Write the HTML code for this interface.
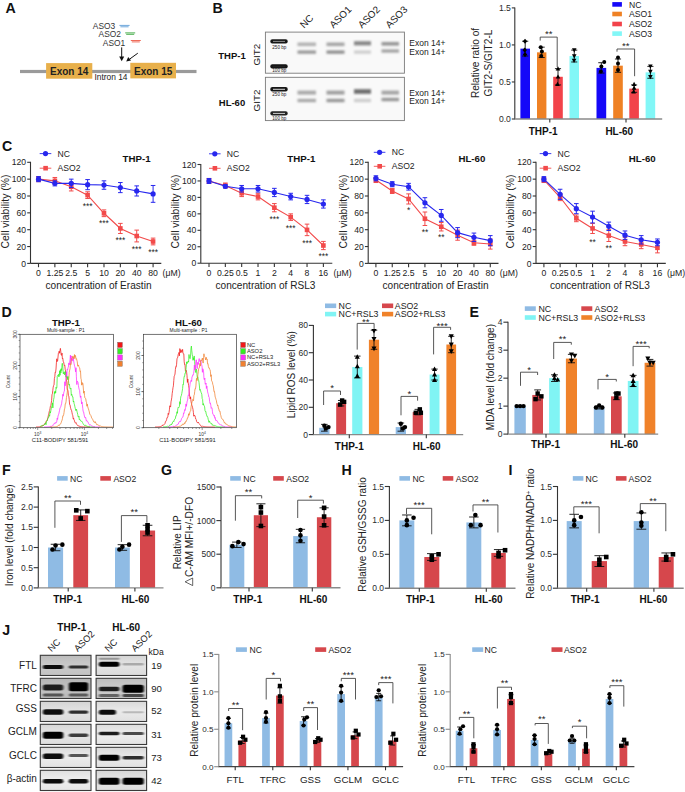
<!DOCTYPE html>
<html><head><meta charset="utf-8"><style>
html,body{margin:0;padding:0;background:#fff;overflow:hidden;width:685px;height:792px;}
svg{display:block;}
text{font-family:"Liberation Sans", sans-serif;}
</style></head><body>
<svg width="685" height="792" viewBox="0 0 685 792" font-family='"Liberation Sans", sans-serif'>
<rect width="685" height="792" fill="#fff"/>
<text x="5.6" y="12.5" font-size="14.2" font-weight="bold" fill="#111">A</text>
<rect x="20" y="69.9" width="176.5" height="3.2" fill="#9a9a9a"/>
<rect x="46.1" y="63.1" width="46.2" height="15.6" fill="#e8b04b"/>
<rect x="130.3" y="62.8" width="45.7" height="15.6" fill="#e8b04b"/>
<text x="69.2" y="75" font-size="10" text-anchor="middle" fill="#222" font-weight="bold">Exon 14</text>
<text x="153.2" y="74.7" font-size="10" text-anchor="middle" fill="#222" font-weight="bold">Exon 15</text>
<text x="111" y="79.52" font-size="8.4" text-anchor="middle" fill="#222">Intron 14</text>
<text x="104" y="29.42" font-size="8.4" text-anchor="middle" fill="#333">ASO3</text>
<text x="109.8" y="37.32" font-size="8.4" text-anchor="middle" fill="#333">ASO2</text>
<text x="114" y="45.72" font-size="8.4" text-anchor="middle" fill="#333">ASO1</text>
<line x1="119.4" y1="25.4" x2="129.6" y2="25.4" stroke="#6fa8dc" stroke-width="1.0"/>
<line x1="120.4" y1="26.8" x2="128.6" y2="26.8" stroke="#6fa8dc" stroke-width="1.0"/>
<line x1="125.2" y1="32.9" x2="135.2" y2="32.9" stroke="#4caf50" stroke-width="1.0"/>
<line x1="126.2" y1="34.3" x2="134.2" y2="34.3" stroke="#4caf50" stroke-width="1.0"/>
<line x1="130.8" y1="40.5" x2="140.8" y2="40.5" stroke="#ef6c5a" stroke-width="1.0"/>
<line x1="131.8" y1="41.9" x2="139.8" y2="41.9" stroke="#ef6c5a" stroke-width="1.0"/>
<line x1="121.7" y1="47.4" x2="121.7" y2="57.5" stroke="#111" stroke-width="1.0"/>
<polygon points="119.2,56.5 124.2,56.5 121.7,61.2" fill="#111"/>
<line x1="137.8" y1="53.2" x2="129.5" y2="59.2" stroke="#111" stroke-width="1.0"/>
<polygon points="126.2,61.6 128.2,56.9 131.0,60.6" fill="#111"/>
<text x="212.5" y="13" font-size="14.2" font-weight="bold" fill="#111">B</text>
<defs><filter id="bl1" x="-20%" y="-80%" width="140%" height="260%"><feGaussianBlur stdDeviation="1.2 1.0"/></filter><filter id="bl2" x="-20%" y="-50%" width="140%" height="200%"><feGaussianBlur stdDeviation="1.3 1.0"/></filter><filter id="bl3" x="-20%" y="-60%" width="140%" height="220%"><feGaussianBlur stdDeviation="0.7 0.5"/></filter></defs>
<rect x="265.4" y="32.1" width="139" height="41.1" fill="#f9f9f9" stroke="#7a7a7a" stroke-width="0.9"/>
<rect x="265.4" y="77.3" width="139" height="43.3" fill="#f9f9f9" stroke="#7a7a7a" stroke-width="0.9"/>
<rect x="297.5" y="42.5" width="18.5" height="3.6" fill="rgb(178,178,178)" filter="url(#bl1)"/>
<rect x="297.5" y="50.5" width="18.5" height="3.2" fill="rgb(150,150,150)" filter="url(#bl1)"/>
<rect x="326.5" y="42.5" width="18" height="3.6" fill="rgb(165,165,165)" filter="url(#bl1)"/>
<rect x="326.5" y="50.5" width="18" height="3.2" fill="rgb(140,140,140)" filter="url(#bl1)"/>
<rect x="354" y="41.2" width="17" height="4.2" fill="rgb(135,135,135)" filter="url(#bl1)"/>
<rect x="354" y="50.5" width="17" height="3.2" fill="rgb(205,205,205)" filter="url(#bl1)"/>
<rect x="381.5" y="42" width="17.5" height="3.6" fill="rgb(150,150,150)" filter="url(#bl1)"/>
<rect x="381.5" y="49.4" width="17.5" height="3.2" fill="rgb(160,160,160)" filter="url(#bl1)"/>
<rect x="297.5" y="90.6" width="18.5" height="4" fill="rgb(170,170,170)" filter="url(#bl1)"/>
<rect x="297.5" y="98.8" width="18.5" height="3.4" fill="rgb(168,168,168)" filter="url(#bl1)"/>
<rect x="326.5" y="90.6" width="18" height="4" fill="rgb(160,160,160)" filter="url(#bl1)"/>
<rect x="326.5" y="98.8" width="18" height="3.4" fill="rgb(150,150,150)" filter="url(#bl1)"/>
<rect x="354" y="89.2" width="17" height="4.6" fill="rgb(110,110,110)" filter="url(#bl1)"/>
<rect x="354" y="98.8" width="17" height="3.4" fill="rgb(205,205,205)" filter="url(#bl1)"/>
<rect x="381.5" y="90.6" width="17.5" height="4" fill="rgb(165,165,165)" filter="url(#bl1)"/>
<rect x="381.5" y="97.8" width="17.5" height="3.4" fill="rgb(150,150,150)" filter="url(#bl1)"/>
<rect x="270.3" y="39.2" width="17.4" height="4.4" rx="2" fill="rgb(25,25,25)" filter="url(#bl3)"/>
<rect x="273" y="40.9" width="12" height="1.0" fill="#9a9a9a" opacity="0.9"/>
<rect x="270.3" y="64.2" width="17.4" height="4.4" rx="2" fill="rgb(20,20,20)" filter="url(#bl3)"/>
<rect x="273" y="65.9" width="12" height="1.0" fill="#222" opacity="0.9"/>
<rect x="270.3" y="87.1" width="17.4" height="4.4" rx="2" fill="rgb(25,25,25)" filter="url(#bl3)"/>
<rect x="273" y="88.8" width="12" height="1.0" fill="#e8e8e8" opacity="0.9"/>
<rect x="270.3" y="111.2" width="17.4" height="4.4" rx="2" fill="rgb(35,35,35)" filter="url(#bl3)"/>
<rect x="273" y="112.9" width="12" height="1.0" fill="#e0e0e0" opacity="0.9"/>
<text x="279.3" y="48.86" font-size="4.6" text-anchor="middle" fill="#222">250 bp</text>
<text x="279.3" y="72.26" font-size="4.6" text-anchor="middle" fill="#222">100 bp</text>
<text x="279.3" y="96.46" font-size="4.6" text-anchor="middle" fill="#222">250 bp</text>
<text x="279.3" y="119.86" font-size="4.6" text-anchor="middle" fill="#222">100 bp</text>
<text x="232" y="59.02" font-size="9.5" text-anchor="middle" fill="#111" font-weight="bold">THP-1</text>
<text x="232" y="105.62" font-size="9.5" text-anchor="middle" fill="#111" font-weight="bold">HL-60</text>
<text transform="translate(256.8,54.7) rotate(-90)" x="0" y="3.53" font-size="9.8" text-anchor="middle" fill="#222">GIT2</text>
<text transform="translate(256.8,100.5) rotate(-90)" x="0" y="3.53" font-size="9.8" text-anchor="middle" fill="#222">GIT2</text>
<text transform="translate(303.9,28.7) rotate(-45)" x="0" y="0" font-size="9.9" fill="#222">NC</text>
<text transform="translate(333.4,28.7) rotate(-45)" x="0" y="0" font-size="9.9" fill="#222">ASO1</text>
<text transform="translate(362,28.7) rotate(-45)" x="0" y="0" font-size="9.9" fill="#222">ASO2</text>
<text transform="translate(389.5,28.7) rotate(-45)" x="0" y="0" font-size="9.9" fill="#222">ASO3</text>
<text x="409.3" y="46.36" font-size="8.5" text-anchor="start" fill="#222">Exon 14+</text>
<text x="409.3" y="55.16" font-size="8.5" text-anchor="start" fill="#222">Exon 14+</text>
<text x="409.3" y="95.66" font-size="8.5" text-anchor="start" fill="#222">Exon 14+</text>
<text x="409.3" y="103.86" font-size="8.5" text-anchor="start" fill="#222">Exon 14+</text>
<rect x="520.4" y="48.64" width="9.6" height="70.36" fill="#1508f8"/>
<line x1="525.2" y1="41.23" x2="525.2" y2="56.04" stroke="#111" stroke-width="0.9"/>
<line x1="522.13" y1="41.23" x2="528.27" y2="41.23" stroke="#111" stroke-width="0.9"/>
<line x1="522.13" y1="56.04" x2="528.27" y2="56.04" stroke="#111" stroke-width="0.9"/>
<polygon points="525.01,38.63 522.81,41.23 525.01,43.83 527.21,41.23" fill="#000"/>
<polygon points="524.72,47.52 522.52,50.12 524.72,52.72 526.92,50.12" fill="#000"/>
<polygon points="525.01,51.96 522.81,54.56 525.01,57.16 527.21,54.56" fill="#000"/>
<rect x="537" y="52.34" width="9.4" height="66.66" fill="#ef8124"/>
<line x1="541.7" y1="47.16" x2="541.7" y2="57.52" stroke="#111" stroke-width="0.9"/>
<line x1="538.69" y1="47.16" x2="544.71" y2="47.16" stroke="#111" stroke-width="0.9"/>
<line x1="538.69" y1="57.52" x2="544.71" y2="57.52" stroke="#111" stroke-width="0.9"/>
<circle cx="540.76" cy="47.16" r="2" fill="#000"/>
<circle cx="541.89" cy="51.6" r="2" fill="#000"/>
<circle cx="541.23" cy="56.04" r="2" fill="#000"/>
<rect x="553.2" y="76.78" width="9.6" height="42.22" fill="#f2434a"/>
<line x1="558" y1="68.63" x2="558" y2="84.93" stroke="#111" stroke-width="0.9"/>
<line x1="554.93" y1="68.63" x2="561.07" y2="68.63" stroke="#111" stroke-width="0.9"/>
<line x1="554.93" y1="84.93" x2="561.07" y2="84.93" stroke="#111" stroke-width="0.9"/>
<polygon points="558,66.23 555.7,70.43 560.3,70.43" fill="#000"/>
<polygon points="558,74.38 555.7,78.58 560.3,78.58" fill="#000"/>
<polygon points="557.52,81.79 555.22,85.99 559.82,85.99" fill="#000"/>
<rect x="569.5" y="56.04" width="9.5" height="62.96" fill="#82f7f7"/>
<line x1="574.25" y1="50.12" x2="574.25" y2="61.97" stroke="#111" stroke-width="0.9"/>
<line x1="571.21" y1="50.12" x2="577.29" y2="50.12" stroke="#111" stroke-width="0.9"/>
<line x1="571.21" y1="61.97" x2="577.29" y2="61.97" stroke="#111" stroke-width="0.9"/>
<polygon points="574.25,52.52 571.95,48.32 576.55,48.32" fill="#000"/>
<polygon points="574.25,58.44 571.95,54.24 576.55,54.24" fill="#000"/>
<polygon points="574.06,62.89 571.76,58.69 576.36,58.69" fill="#000"/>
<rect x="596.5" y="67.89" width="9.7" height="51.11" fill="#1508f8"/>
<line x1="601.35" y1="62.71" x2="601.35" y2="73.08" stroke="#111" stroke-width="0.9"/>
<line x1="598.25" y1="62.71" x2="604.45" y2="62.71" stroke="#111" stroke-width="0.9"/>
<line x1="598.25" y1="73.08" x2="604.45" y2="73.08" stroke="#111" stroke-width="0.9"/>
<circle cx="604.26" cy="61.97" r="2" fill="#000"/>
<circle cx="601.35" cy="66.41" r="2" fill="#000"/>
<circle cx="600.87" cy="71.6" r="2" fill="#000"/>
<rect x="613.2" y="65.67" width="9.6" height="53.33" fill="#ef8124"/>
<line x1="618" y1="59.01" x2="618" y2="72.34" stroke="#111" stroke-width="0.9"/>
<line x1="614.93" y1="59.01" x2="621.07" y2="59.01" stroke="#111" stroke-width="0.9"/>
<line x1="614.93" y1="72.34" x2="621.07" y2="72.34" stroke="#111" stroke-width="0.9"/>
<circle cx="618" cy="57.52" r="2" fill="#000"/>
<circle cx="618" cy="63.45" r="2" fill="#000"/>
<circle cx="618" cy="70.12" r="2" fill="#000"/>
<rect x="629.3" y="88.63" width="9.6" height="30.37" fill="#f2434a"/>
<line x1="634.1" y1="84.93" x2="634.1" y2="92.34" stroke="#111" stroke-width="0.9"/>
<line x1="631.03" y1="84.93" x2="637.17" y2="84.93" stroke="#111" stroke-width="0.9"/>
<line x1="631.03" y1="92.34" x2="637.17" y2="92.34" stroke="#111" stroke-width="0.9"/>
<polygon points="634.1,81.79 631.8,85.99 636.4,85.99" fill="#000"/>
<polygon points="634.1,85.49 631.8,89.69 636.4,89.69" fill="#000"/>
<polygon points="633.62,89.2 631.32,93.4 635.92,93.4" fill="#000"/>
<rect x="645.6" y="72.34" width="9.6" height="46.66" fill="#82f7f7"/>
<line x1="650.4" y1="66.41" x2="650.4" y2="78.26" stroke="#111" stroke-width="0.9"/>
<line x1="647.33" y1="66.41" x2="653.47" y2="66.41" stroke="#111" stroke-width="0.9"/>
<line x1="647.33" y1="78.26" x2="653.47" y2="78.26" stroke="#111" stroke-width="0.9"/>
<polygon points="650.4,68.81 648.1,64.61 652.7,64.61" fill="#000"/>
<polygon points="650.4,74 648.1,69.8 652.7,69.8" fill="#000"/>
<polygon points="650.4,79.18 648.1,74.98 652.7,74.98" fill="#000"/>
<line x1="514.8" y1="7.4" x2="514.8" y2="119" stroke="#333" stroke-width="1.1"/>
<line x1="514.3" y1="119" x2="662.2" y2="119" stroke="#8a8a8a" stroke-width="1.4"/>
<line x1="511.8" y1="119" x2="514.8" y2="119" stroke="#333" stroke-width="1.1"/>
<text x="510.9" y="122.1" font-size="8.6" text-anchor="end" fill="#2a2a2a">0.0</text>
<line x1="511.8" y1="81.97" x2="514.8" y2="81.97" stroke="#333" stroke-width="1.1"/>
<text x="510.9" y="85.06" font-size="8.6" text-anchor="end" fill="#2a2a2a">0.5</text>
<line x1="511.8" y1="44.93" x2="514.8" y2="44.93" stroke="#333" stroke-width="1.1"/>
<text x="510.9" y="48.03" font-size="8.6" text-anchor="end" fill="#2a2a2a">1.0</text>
<line x1="511.8" y1="7.9" x2="514.8" y2="7.9" stroke="#333" stroke-width="1.1"/>
<text x="510.9" y="11" font-size="8.6" text-anchor="end" fill="#2a2a2a">1.5</text>
<line x1="549.8" y1="119" x2="549.8" y2="122.6" stroke="#333" stroke-width="1.1"/>
<text x="543.1" y="134.8" font-size="10" text-anchor="middle" fill="#111" font-weight="bold">THP-1</text>
<line x1="626" y1="119" x2="626" y2="122.6" stroke="#333" stroke-width="1.1"/>
<text x="619.3" y="134.8" font-size="10" text-anchor="middle" fill="#111" font-weight="bold">HL-60</text>
<polyline points="540.2,40.6 540.2,37.1 557.2,37.1 557.2,67.1" stroke="#3a3a3a" stroke-width="0.85" fill="none"/>
<text x="548.7" y="37.2" font-size="9.6" text-anchor="middle" fill="#1a1a1a">**</text>
<polyline points="617,51.7 617,49 634.6,49 634.6,76.2" stroke="#3a3a3a" stroke-width="0.85" fill="none"/>
<text x="625.8" y="48.6" font-size="9.6" text-anchor="middle" fill="#1a1a1a">**</text>
<text transform="translate(475.8,63) rotate(-90)" x="0" y="3.64" font-size="10.1" text-anchor="middle" fill="#222">Relative ratio of</text>
<text transform="translate(488.1,63) rotate(-90)" x="0" y="3.64" font-size="10.1" text-anchor="middle" fill="#222">GIT2-S/GIT2-L</text>
<rect x="612.3" y="2.1" width="9.6" height="4.6" fill="#1508f8"/>
<text x="629" y="7.5" font-size="8.6" text-anchor="start" fill="#222">NC</text>
<rect x="612.3" y="11.7" width="9.6" height="4.6" fill="#ef8124"/>
<text x="629" y="17.1" font-size="8.6" text-anchor="start" fill="#222">ASO1</text>
<rect x="612.3" y="21.7" width="9.6" height="4.6" fill="#f2434a"/>
<text x="629" y="27.1" font-size="8.6" text-anchor="start" fill="#222">ASO2</text>
<rect x="612.3" y="31.3" width="9.6" height="4.6" fill="#82f7f7"/>
<text x="629" y="36.7" font-size="8.6" text-anchor="start" fill="#222">ASO3</text>
<text x="2" y="151.4" font-size="14.2" font-weight="bold" fill="#111">C</text>
<line x1="30.5" y1="161.8" x2="30.5" y2="263.4" stroke="#333" stroke-width="1.1"/>
<line x1="30.5" y1="263.4" x2="161.3" y2="263.4" stroke="#333" stroke-width="1.1"/>
<line x1="27.2" y1="263.4" x2="30.5" y2="263.4" stroke="#333" stroke-width="1.1"/>
<text x="26.1" y="266.5" font-size="8.6" text-anchor="end" fill="#222">0</text>
<line x1="27.2" y1="246.55" x2="30.5" y2="246.55" stroke="#333" stroke-width="1.1"/>
<text x="26.1" y="249.65" font-size="8.6" text-anchor="end" fill="#222">20</text>
<line x1="27.2" y1="229.7" x2="30.5" y2="229.7" stroke="#333" stroke-width="1.1"/>
<text x="26.1" y="232.8" font-size="8.6" text-anchor="end" fill="#222">40</text>
<line x1="27.2" y1="212.85" x2="30.5" y2="212.85" stroke="#333" stroke-width="1.1"/>
<text x="26.1" y="215.95" font-size="8.6" text-anchor="end" fill="#222">60</text>
<line x1="27.2" y1="196" x2="30.5" y2="196" stroke="#333" stroke-width="1.1"/>
<text x="26.1" y="199.1" font-size="8.6" text-anchor="end" fill="#222">80</text>
<line x1="27.2" y1="179.15" x2="30.5" y2="179.15" stroke="#333" stroke-width="1.1"/>
<text x="26.1" y="182.25" font-size="8.6" text-anchor="end" fill="#222">100</text>
<line x1="27.2" y1="162.3" x2="30.5" y2="162.3" stroke="#333" stroke-width="1.1"/>
<text x="26.1" y="165.4" font-size="8.6" text-anchor="end" fill="#222">120</text>
<line x1="38.5" y1="263.4" x2="38.5" y2="267.2" stroke="#333" stroke-width="1.1"/>
<text x="38.5" y="275.73" font-size="8.7" text-anchor="middle" fill="#222">0</text>
<line x1="54.87" y1="263.4" x2="54.87" y2="267.2" stroke="#333" stroke-width="1.1"/>
<text x="54.87" y="275.73" font-size="8.7" text-anchor="middle" fill="#222">1.25</text>
<line x1="71.24" y1="263.4" x2="71.24" y2="267.2" stroke="#333" stroke-width="1.1"/>
<text x="71.24" y="275.73" font-size="8.7" text-anchor="middle" fill="#222">2.5</text>
<line x1="87.61" y1="263.4" x2="87.61" y2="267.2" stroke="#333" stroke-width="1.1"/>
<text x="87.61" y="275.73" font-size="8.7" text-anchor="middle" fill="#222">5</text>
<line x1="103.98" y1="263.4" x2="103.98" y2="267.2" stroke="#333" stroke-width="1.1"/>
<text x="103.98" y="275.73" font-size="8.7" text-anchor="middle" fill="#222">10</text>
<line x1="120.35" y1="263.4" x2="120.35" y2="267.2" stroke="#333" stroke-width="1.1"/>
<text x="120.35" y="275.73" font-size="8.7" text-anchor="middle" fill="#222">20</text>
<line x1="136.72" y1="263.4" x2="136.72" y2="267.2" stroke="#333" stroke-width="1.1"/>
<text x="136.72" y="275.73" font-size="8.7" text-anchor="middle" fill="#222">40</text>
<line x1="153.09" y1="263.4" x2="153.09" y2="267.2" stroke="#333" stroke-width="1.1"/>
<text x="153.09" y="275.73" font-size="8.7" text-anchor="middle" fill="#222">80</text>
<text x="162.6" y="275.73" font-size="8.7" text-anchor="start" fill="#222">(μM)</text>
<text x="98.5" y="289.44" font-size="10.1" text-anchor="middle" fill="#222">concentration of Erastin</text>
<text transform="translate(5.5,211.5) rotate(-90)" x="0" y="3.74" font-size="10.4" text-anchor="middle" fill="#222">Cell viability (%)</text>
<polyline points="38.5,179.15 54.87,180.84 71.24,186.73 87.61,195.16 103.98,213.27 120.35,228.44 136.72,236.02 153.09,241.49" stroke="#f24a4a" stroke-width="1.1" fill="none"/>
<polyline points="38.5,179.15 54.87,183.36 71.24,183.36 87.61,184.63 103.98,185.05 120.35,187.57 136.72,190.94 153.09,193.89" stroke="#2727ee" stroke-width="1.1" fill="none"/>
<line x1="38.5" y1="176.62" x2="38.5" y2="181.68" stroke="#f24a4a" stroke-width="1.0"/>
<line x1="36.2" y1="176.62" x2="40.8" y2="176.62" stroke="#f24a4a" stroke-width="1.0"/>
<line x1="36.2" y1="181.68" x2="40.8" y2="181.68" stroke="#f24a4a" stroke-width="1.0"/>
<rect x="36.2" y="176.85" width="4.6" height="4.6" fill="#f24a4a"/>
<line x1="54.87" y1="177.47" x2="54.87" y2="184.21" stroke="#f24a4a" stroke-width="1.0"/>
<line x1="52.57" y1="177.47" x2="57.17" y2="177.47" stroke="#f24a4a" stroke-width="1.0"/>
<line x1="52.57" y1="184.21" x2="57.17" y2="184.21" stroke="#f24a4a" stroke-width="1.0"/>
<rect x="52.57" y="178.53" width="4.6" height="4.6" fill="#f24a4a"/>
<line x1="71.24" y1="182.52" x2="71.24" y2="190.94" stroke="#f24a4a" stroke-width="1.0"/>
<line x1="68.94" y1="182.52" x2="73.54" y2="182.52" stroke="#f24a4a" stroke-width="1.0"/>
<line x1="68.94" y1="190.94" x2="73.54" y2="190.94" stroke="#f24a4a" stroke-width="1.0"/>
<rect x="68.94" y="184.43" width="4.6" height="4.6" fill="#f24a4a"/>
<line x1="87.61" y1="191.79" x2="87.61" y2="198.53" stroke="#f24a4a" stroke-width="1.0"/>
<line x1="85.31" y1="191.79" x2="89.91" y2="191.79" stroke="#f24a4a" stroke-width="1.0"/>
<line x1="85.31" y1="198.53" x2="89.91" y2="198.53" stroke="#f24a4a" stroke-width="1.0"/>
<rect x="85.31" y="192.86" width="4.6" height="4.6" fill="#f24a4a"/>
<line x1="103.98" y1="209.9" x2="103.98" y2="216.64" stroke="#f24a4a" stroke-width="1.0"/>
<line x1="101.68" y1="209.9" x2="106.28" y2="209.9" stroke="#f24a4a" stroke-width="1.0"/>
<line x1="101.68" y1="216.64" x2="106.28" y2="216.64" stroke="#f24a4a" stroke-width="1.0"/>
<rect x="101.68" y="210.97" width="4.6" height="4.6" fill="#f24a4a"/>
<line x1="120.35" y1="223.38" x2="120.35" y2="233.49" stroke="#f24a4a" stroke-width="1.0"/>
<line x1="118.05" y1="223.38" x2="122.65" y2="223.38" stroke="#f24a4a" stroke-width="1.0"/>
<line x1="118.05" y1="233.49" x2="122.65" y2="233.49" stroke="#f24a4a" stroke-width="1.0"/>
<rect x="118.05" y="226.14" width="4.6" height="4.6" fill="#f24a4a"/>
<line x1="136.72" y1="230.12" x2="136.72" y2="241.92" stroke="#f24a4a" stroke-width="1.0"/>
<line x1="134.42" y1="230.12" x2="139.02" y2="230.12" stroke="#f24a4a" stroke-width="1.0"/>
<line x1="134.42" y1="241.92" x2="139.02" y2="241.92" stroke="#f24a4a" stroke-width="1.0"/>
<rect x="134.42" y="233.72" width="4.6" height="4.6" fill="#f24a4a"/>
<line x1="153.09" y1="238.12" x2="153.09" y2="244.86" stroke="#f24a4a" stroke-width="1.0"/>
<line x1="150.79" y1="238.12" x2="155.39" y2="238.12" stroke="#f24a4a" stroke-width="1.0"/>
<line x1="150.79" y1="244.86" x2="155.39" y2="244.86" stroke="#f24a4a" stroke-width="1.0"/>
<rect x="150.79" y="239.19" width="4.6" height="4.6" fill="#f24a4a"/>
<line x1="38.5" y1="176.62" x2="38.5" y2="181.68" stroke="#2727ee" stroke-width="1.0"/>
<line x1="36.2" y1="176.62" x2="40.8" y2="176.62" stroke="#2727ee" stroke-width="1.0"/>
<line x1="36.2" y1="181.68" x2="40.8" y2="181.68" stroke="#2727ee" stroke-width="1.0"/>
<circle cx="38.5" cy="179.15" r="2.6" fill="#2727ee"/>
<line x1="54.87" y1="180.84" x2="54.87" y2="185.89" stroke="#2727ee" stroke-width="1.0"/>
<line x1="52.57" y1="180.84" x2="57.17" y2="180.84" stroke="#2727ee" stroke-width="1.0"/>
<line x1="52.57" y1="185.89" x2="57.17" y2="185.89" stroke="#2727ee" stroke-width="1.0"/>
<circle cx="54.87" cy="183.36" r="2.6" fill="#2727ee"/>
<line x1="71.24" y1="179.15" x2="71.24" y2="187.57" stroke="#2727ee" stroke-width="1.0"/>
<line x1="68.94" y1="179.15" x2="73.54" y2="179.15" stroke="#2727ee" stroke-width="1.0"/>
<line x1="68.94" y1="187.57" x2="73.54" y2="187.57" stroke="#2727ee" stroke-width="1.0"/>
<circle cx="71.24" cy="183.36" r="2.6" fill="#2727ee"/>
<line x1="87.61" y1="179.57" x2="87.61" y2="189.68" stroke="#2727ee" stroke-width="1.0"/>
<line x1="85.31" y1="179.57" x2="89.91" y2="179.57" stroke="#2727ee" stroke-width="1.0"/>
<line x1="85.31" y1="189.68" x2="89.91" y2="189.68" stroke="#2727ee" stroke-width="1.0"/>
<circle cx="87.61" cy="184.63" r="2.6" fill="#2727ee"/>
<line x1="103.98" y1="180.84" x2="103.98" y2="189.26" stroke="#2727ee" stroke-width="1.0"/>
<line x1="101.68" y1="180.84" x2="106.28" y2="180.84" stroke="#2727ee" stroke-width="1.0"/>
<line x1="101.68" y1="189.26" x2="106.28" y2="189.26" stroke="#2727ee" stroke-width="1.0"/>
<circle cx="103.98" cy="185.05" r="2.6" fill="#2727ee"/>
<line x1="120.35" y1="182.52" x2="120.35" y2="192.63" stroke="#2727ee" stroke-width="1.0"/>
<line x1="118.05" y1="182.52" x2="122.65" y2="182.52" stroke="#2727ee" stroke-width="1.0"/>
<line x1="118.05" y1="192.63" x2="122.65" y2="192.63" stroke="#2727ee" stroke-width="1.0"/>
<circle cx="120.35" cy="187.57" r="2.6" fill="#2727ee"/>
<line x1="136.72" y1="185.89" x2="136.72" y2="196" stroke="#2727ee" stroke-width="1.0"/>
<line x1="134.42" y1="185.89" x2="139.02" y2="185.89" stroke="#2727ee" stroke-width="1.0"/>
<line x1="134.42" y1="196" x2="139.02" y2="196" stroke="#2727ee" stroke-width="1.0"/>
<circle cx="136.72" cy="190.94" r="2.6" fill="#2727ee"/>
<line x1="153.09" y1="185.47" x2="153.09" y2="202.32" stroke="#2727ee" stroke-width="1.0"/>
<line x1="150.79" y1="185.47" x2="155.39" y2="185.47" stroke="#2727ee" stroke-width="1.0"/>
<line x1="150.79" y1="202.32" x2="155.39" y2="202.32" stroke="#2727ee" stroke-width="1.0"/>
<circle cx="153.09" cy="193.89" r="2.6" fill="#2727ee"/>
<text x="87.61" y="208.7" font-size="8.4" text-anchor="middle" fill="#1a1a1a">***</text>
<text x="103.98" y="226" font-size="8.4" text-anchor="middle" fill="#1a1a1a">***</text>
<text x="120.35" y="242.9" font-size="8.4" text-anchor="middle" fill="#1a1a1a">***</text>
<text x="136.72" y="252.1" font-size="8.4" text-anchor="middle" fill="#1a1a1a">***</text>
<text x="153.09" y="255.3" font-size="8.4" text-anchor="middle" fill="#1a1a1a">***</text>
<line x1="39.7" y1="153.6" x2="51.3" y2="153.6" stroke="#2727ee" stroke-width="0.9"/>
<circle cx="45.5" cy="153.6" r="2.6" fill="#2727ee"/>
<text x="57.6" y="156.7" font-size="8.6" text-anchor="start" fill="#222">NC</text>
<line x1="39.7" y1="168.2" x2="51.3" y2="168.2" stroke="#f24a4a" stroke-width="0.9"/>
<rect x="43.3" y="165.9" width="4.6" height="4.6" fill="#f24a4a"/>
<text x="57.6" y="171.3" font-size="8.6" text-anchor="start" fill="#222">ASO2</text>
<text x="136.55" y="162.49" font-size="9.7" text-anchor="middle" fill="#111" font-weight="bold">THP-1</text>
<line x1="200.8" y1="164" x2="200.8" y2="263.2" stroke="#333" stroke-width="1.1"/>
<line x1="200.8" y1="263.2" x2="332.3" y2="263.2" stroke="#333" stroke-width="1.1"/>
<line x1="197.5" y1="263.2" x2="200.8" y2="263.2" stroke="#333" stroke-width="1.1"/>
<text x="196.4" y="266.3" font-size="8.6" text-anchor="end" fill="#222">0</text>
<line x1="197.5" y1="246.75" x2="200.8" y2="246.75" stroke="#333" stroke-width="1.1"/>
<text x="196.4" y="249.85" font-size="8.6" text-anchor="end" fill="#222">20</text>
<line x1="197.5" y1="230.3" x2="200.8" y2="230.3" stroke="#333" stroke-width="1.1"/>
<text x="196.4" y="233.4" font-size="8.6" text-anchor="end" fill="#222">40</text>
<line x1="197.5" y1="213.85" x2="200.8" y2="213.85" stroke="#333" stroke-width="1.1"/>
<text x="196.4" y="216.95" font-size="8.6" text-anchor="end" fill="#222">60</text>
<line x1="197.5" y1="197.4" x2="200.8" y2="197.4" stroke="#333" stroke-width="1.1"/>
<text x="196.4" y="200.5" font-size="8.6" text-anchor="end" fill="#222">80</text>
<line x1="197.5" y1="180.95" x2="200.8" y2="180.95" stroke="#333" stroke-width="1.1"/>
<text x="196.4" y="184.05" font-size="8.6" text-anchor="end" fill="#222">100</text>
<line x1="197.5" y1="164.5" x2="200.8" y2="164.5" stroke="#333" stroke-width="1.1"/>
<text x="196.4" y="167.6" font-size="8.6" text-anchor="end" fill="#222">120</text>
<line x1="209" y1="263.2" x2="209" y2="267" stroke="#333" stroke-width="1.1"/>
<text x="209" y="275.73" font-size="8.7" text-anchor="middle" fill="#222">0</text>
<line x1="225.34" y1="263.2" x2="225.34" y2="267" stroke="#333" stroke-width="1.1"/>
<text x="225.34" y="275.73" font-size="8.7" text-anchor="middle" fill="#222">0.25</text>
<line x1="241.68" y1="263.2" x2="241.68" y2="267" stroke="#333" stroke-width="1.1"/>
<text x="241.68" y="275.73" font-size="8.7" text-anchor="middle" fill="#222">0.5</text>
<line x1="258.02" y1="263.2" x2="258.02" y2="267" stroke="#333" stroke-width="1.1"/>
<text x="258.02" y="275.73" font-size="8.7" text-anchor="middle" fill="#222">1</text>
<line x1="274.36" y1="263.2" x2="274.36" y2="267" stroke="#333" stroke-width="1.1"/>
<text x="274.36" y="275.73" font-size="8.7" text-anchor="middle" fill="#222">2</text>
<line x1="290.7" y1="263.2" x2="290.7" y2="267" stroke="#333" stroke-width="1.1"/>
<text x="290.7" y="275.73" font-size="8.7" text-anchor="middle" fill="#222">4</text>
<line x1="307.04" y1="263.2" x2="307.04" y2="267" stroke="#333" stroke-width="1.1"/>
<text x="307.04" y="275.73" font-size="8.7" text-anchor="middle" fill="#222">8</text>
<line x1="323.38" y1="263.2" x2="323.38" y2="267" stroke="#333" stroke-width="1.1"/>
<text x="323.38" y="275.73" font-size="8.7" text-anchor="middle" fill="#222">16</text>
<text x="333.6" y="275.73" font-size="8.7" text-anchor="start" fill="#222">(μM)</text>
<text x="265.5" y="289.44" font-size="10.1" text-anchor="middle" fill="#222">concentration of RSL3</text>
<text transform="translate(175.5,211.5) rotate(-90)" x="0" y="3.74" font-size="10.4" text-anchor="middle" fill="#222">Cell viability (%)</text>
<polyline points="209,180.95 225.34,185.47 241.68,193.29 258.02,196.58 274.36,207.68 290.7,217.14 307.04,229.89 323.38,245.52" stroke="#f24a4a" stroke-width="1.1" fill="none"/>
<polyline points="209,180.95 225.34,186.3 241.68,188.76 258.02,188.76 274.36,192.47 290.7,196.58 307.04,199.46 323.38,203.98" stroke="#2727ee" stroke-width="1.1" fill="none"/>
<line x1="209" y1="178.48" x2="209" y2="183.42" stroke="#f24a4a" stroke-width="1.0"/>
<line x1="206.7" y1="178.48" x2="211.3" y2="178.48" stroke="#f24a4a" stroke-width="1.0"/>
<line x1="206.7" y1="183.42" x2="211.3" y2="183.42" stroke="#f24a4a" stroke-width="1.0"/>
<rect x="206.7" y="178.65" width="4.6" height="4.6" fill="#f24a4a"/>
<line x1="225.34" y1="183.01" x2="225.34" y2="187.94" stroke="#f24a4a" stroke-width="1.0"/>
<line x1="223.04" y1="183.01" x2="227.64" y2="183.01" stroke="#f24a4a" stroke-width="1.0"/>
<line x1="223.04" y1="187.94" x2="227.64" y2="187.94" stroke="#f24a4a" stroke-width="1.0"/>
<rect x="223.04" y="183.17" width="4.6" height="4.6" fill="#f24a4a"/>
<line x1="241.68" y1="190" x2="241.68" y2="196.58" stroke="#f24a4a" stroke-width="1.0"/>
<line x1="239.38" y1="190" x2="243.98" y2="190" stroke="#f24a4a" stroke-width="1.0"/>
<line x1="239.38" y1="196.58" x2="243.98" y2="196.58" stroke="#f24a4a" stroke-width="1.0"/>
<rect x="239.38" y="190.99" width="4.6" height="4.6" fill="#f24a4a"/>
<line x1="258.02" y1="193.29" x2="258.02" y2="199.87" stroke="#f24a4a" stroke-width="1.0"/>
<line x1="255.72" y1="193.29" x2="260.32" y2="193.29" stroke="#f24a4a" stroke-width="1.0"/>
<line x1="255.72" y1="199.87" x2="260.32" y2="199.87" stroke="#f24a4a" stroke-width="1.0"/>
<rect x="255.72" y="194.28" width="4.6" height="4.6" fill="#f24a4a"/>
<line x1="274.36" y1="203.57" x2="274.36" y2="211.79" stroke="#f24a4a" stroke-width="1.0"/>
<line x1="272.06" y1="203.57" x2="276.66" y2="203.57" stroke="#f24a4a" stroke-width="1.0"/>
<line x1="272.06" y1="211.79" x2="276.66" y2="211.79" stroke="#f24a4a" stroke-width="1.0"/>
<rect x="272.06" y="205.38" width="4.6" height="4.6" fill="#f24a4a"/>
<line x1="290.7" y1="213.85" x2="290.7" y2="220.43" stroke="#f24a4a" stroke-width="1.0"/>
<line x1="288.4" y1="213.85" x2="293" y2="213.85" stroke="#f24a4a" stroke-width="1.0"/>
<line x1="288.4" y1="220.43" x2="293" y2="220.43" stroke="#f24a4a" stroke-width="1.0"/>
<rect x="288.4" y="214.84" width="4.6" height="4.6" fill="#f24a4a"/>
<line x1="307.04" y1="224.13" x2="307.04" y2="235.65" stroke="#f24a4a" stroke-width="1.0"/>
<line x1="304.74" y1="224.13" x2="309.34" y2="224.13" stroke="#f24a4a" stroke-width="1.0"/>
<line x1="304.74" y1="235.65" x2="309.34" y2="235.65" stroke="#f24a4a" stroke-width="1.0"/>
<rect x="304.74" y="227.59" width="4.6" height="4.6" fill="#f24a4a"/>
<line x1="323.38" y1="241.4" x2="323.38" y2="249.63" stroke="#f24a4a" stroke-width="1.0"/>
<line x1="321.08" y1="241.4" x2="325.68" y2="241.4" stroke="#f24a4a" stroke-width="1.0"/>
<line x1="321.08" y1="249.63" x2="325.68" y2="249.63" stroke="#f24a4a" stroke-width="1.0"/>
<rect x="321.08" y="243.22" width="4.6" height="4.6" fill="#f24a4a"/>
<line x1="209" y1="178.48" x2="209" y2="183.42" stroke="#2727ee" stroke-width="1.0"/>
<line x1="206.7" y1="178.48" x2="211.3" y2="178.48" stroke="#2727ee" stroke-width="1.0"/>
<line x1="206.7" y1="183.42" x2="211.3" y2="183.42" stroke="#2727ee" stroke-width="1.0"/>
<circle cx="209" cy="180.95" r="2.6" fill="#2727ee"/>
<line x1="225.34" y1="184.65" x2="225.34" y2="187.94" stroke="#2727ee" stroke-width="1.0"/>
<line x1="223.04" y1="184.65" x2="227.64" y2="184.65" stroke="#2727ee" stroke-width="1.0"/>
<line x1="223.04" y1="187.94" x2="227.64" y2="187.94" stroke="#2727ee" stroke-width="1.0"/>
<circle cx="225.34" cy="186.3" r="2.6" fill="#2727ee"/>
<line x1="241.68" y1="185.47" x2="241.68" y2="192.05" stroke="#2727ee" stroke-width="1.0"/>
<line x1="239.38" y1="185.47" x2="243.98" y2="185.47" stroke="#2727ee" stroke-width="1.0"/>
<line x1="239.38" y1="192.05" x2="243.98" y2="192.05" stroke="#2727ee" stroke-width="1.0"/>
<circle cx="241.68" cy="188.76" r="2.6" fill="#2727ee"/>
<line x1="258.02" y1="185.47" x2="258.02" y2="192.05" stroke="#2727ee" stroke-width="1.0"/>
<line x1="255.72" y1="185.47" x2="260.32" y2="185.47" stroke="#2727ee" stroke-width="1.0"/>
<line x1="255.72" y1="192.05" x2="260.32" y2="192.05" stroke="#2727ee" stroke-width="1.0"/>
<circle cx="258.02" cy="188.76" r="2.6" fill="#2727ee"/>
<line x1="274.36" y1="188.35" x2="274.36" y2="196.58" stroke="#2727ee" stroke-width="1.0"/>
<line x1="272.06" y1="188.35" x2="276.66" y2="188.35" stroke="#2727ee" stroke-width="1.0"/>
<line x1="272.06" y1="196.58" x2="276.66" y2="196.58" stroke="#2727ee" stroke-width="1.0"/>
<circle cx="274.36" cy="192.47" r="2.6" fill="#2727ee"/>
<line x1="290.7" y1="193.29" x2="290.7" y2="199.87" stroke="#2727ee" stroke-width="1.0"/>
<line x1="288.4" y1="193.29" x2="293" y2="193.29" stroke="#2727ee" stroke-width="1.0"/>
<line x1="288.4" y1="199.87" x2="293" y2="199.87" stroke="#2727ee" stroke-width="1.0"/>
<circle cx="290.7" cy="196.58" r="2.6" fill="#2727ee"/>
<line x1="307.04" y1="195.34" x2="307.04" y2="203.57" stroke="#2727ee" stroke-width="1.0"/>
<line x1="304.74" y1="195.34" x2="309.34" y2="195.34" stroke="#2727ee" stroke-width="1.0"/>
<line x1="304.74" y1="203.57" x2="309.34" y2="203.57" stroke="#2727ee" stroke-width="1.0"/>
<circle cx="307.04" cy="199.46" r="2.6" fill="#2727ee"/>
<line x1="323.38" y1="199.87" x2="323.38" y2="208.09" stroke="#2727ee" stroke-width="1.0"/>
<line x1="321.08" y1="199.87" x2="325.68" y2="199.87" stroke="#2727ee" stroke-width="1.0"/>
<line x1="321.08" y1="208.09" x2="325.68" y2="208.09" stroke="#2727ee" stroke-width="1.0"/>
<circle cx="323.38" cy="203.98" r="2.6" fill="#2727ee"/>
<text x="274.36" y="222.2" font-size="8.4" text-anchor="middle" fill="#1a1a1a">***</text>
<text x="290.7" y="230.8" font-size="8.4" text-anchor="middle" fill="#1a1a1a">***</text>
<text x="307.04" y="246.1" font-size="8.4" text-anchor="middle" fill="#1a1a1a">***</text>
<text x="323.38" y="259.4" font-size="8.4" text-anchor="middle" fill="#1a1a1a">***</text>
<line x1="209" y1="153.8" x2="220.6" y2="153.8" stroke="#2727ee" stroke-width="0.9"/>
<circle cx="214.8" cy="153.8" r="2.6" fill="#2727ee"/>
<text x="226.8" y="156.9" font-size="8.6" text-anchor="start" fill="#222">NC</text>
<line x1="209" y1="168.3" x2="220.6" y2="168.3" stroke="#f24a4a" stroke-width="0.9"/>
<rect x="212.6" y="166" width="4.6" height="4.6" fill="#f24a4a"/>
<text x="226.8" y="171.4" font-size="8.6" text-anchor="start" fill="#222">ASO2</text>
<text x="301.35" y="162.49" font-size="9.7" text-anchor="middle" fill="#111" font-weight="bold">THP-1</text>
<line x1="368.2" y1="161.8" x2="368.2" y2="263.4" stroke="#333" stroke-width="1.1"/>
<line x1="368.2" y1="263.4" x2="498.5" y2="263.4" stroke="#333" stroke-width="1.1"/>
<line x1="364.9" y1="263.4" x2="368.2" y2="263.4" stroke="#333" stroke-width="1.1"/>
<text x="363.8" y="266.5" font-size="8.6" text-anchor="end" fill="#222">0</text>
<line x1="364.9" y1="246.55" x2="368.2" y2="246.55" stroke="#333" stroke-width="1.1"/>
<text x="363.8" y="249.65" font-size="8.6" text-anchor="end" fill="#222">20</text>
<line x1="364.9" y1="229.7" x2="368.2" y2="229.7" stroke="#333" stroke-width="1.1"/>
<text x="363.8" y="232.8" font-size="8.6" text-anchor="end" fill="#222">40</text>
<line x1="364.9" y1="212.85" x2="368.2" y2="212.85" stroke="#333" stroke-width="1.1"/>
<text x="363.8" y="215.95" font-size="8.6" text-anchor="end" fill="#222">60</text>
<line x1="364.9" y1="196" x2="368.2" y2="196" stroke="#333" stroke-width="1.1"/>
<text x="363.8" y="199.1" font-size="8.6" text-anchor="end" fill="#222">80</text>
<line x1="364.9" y1="179.15" x2="368.2" y2="179.15" stroke="#333" stroke-width="1.1"/>
<text x="363.8" y="182.25" font-size="8.6" text-anchor="end" fill="#222">100</text>
<line x1="364.9" y1="162.3" x2="368.2" y2="162.3" stroke="#333" stroke-width="1.1"/>
<text x="363.8" y="165.4" font-size="8.6" text-anchor="end" fill="#222">120</text>
<line x1="375.9" y1="263.4" x2="375.9" y2="267.2" stroke="#333" stroke-width="1.1"/>
<text x="375.9" y="275.73" font-size="8.7" text-anchor="middle" fill="#222">0</text>
<line x1="392.24" y1="263.4" x2="392.24" y2="267.2" stroke="#333" stroke-width="1.1"/>
<text x="392.24" y="275.73" font-size="8.7" text-anchor="middle" fill="#222">1.25</text>
<line x1="408.58" y1="263.4" x2="408.58" y2="267.2" stroke="#333" stroke-width="1.1"/>
<text x="408.58" y="275.73" font-size="8.7" text-anchor="middle" fill="#222">2.5</text>
<line x1="424.92" y1="263.4" x2="424.92" y2="267.2" stroke="#333" stroke-width="1.1"/>
<text x="424.92" y="275.73" font-size="8.7" text-anchor="middle" fill="#222">5</text>
<line x1="441.26" y1="263.4" x2="441.26" y2="267.2" stroke="#333" stroke-width="1.1"/>
<text x="441.26" y="275.73" font-size="8.7" text-anchor="middle" fill="#222">10</text>
<line x1="457.6" y1="263.4" x2="457.6" y2="267.2" stroke="#333" stroke-width="1.1"/>
<text x="457.6" y="275.73" font-size="8.7" text-anchor="middle" fill="#222">20</text>
<line x1="473.94" y1="263.4" x2="473.94" y2="267.2" stroke="#333" stroke-width="1.1"/>
<text x="473.94" y="275.73" font-size="8.7" text-anchor="middle" fill="#222">40</text>
<line x1="490.28" y1="263.4" x2="490.28" y2="267.2" stroke="#333" stroke-width="1.1"/>
<text x="490.28" y="275.73" font-size="8.7" text-anchor="middle" fill="#222">80</text>
<text x="499.8" y="275.73" font-size="8.7" text-anchor="start" fill="#222">(μM)</text>
<text x="435.5" y="289.44" font-size="10.1" text-anchor="middle" fill="#222">concentration of Erastin</text>
<text transform="translate(343,211.5) rotate(-90)" x="0" y="3.74" font-size="10.4" text-anchor="middle" fill="#222">Cell viability (%)</text>
<polyline points="375.9,179.99 392.24,190.94 408.58,198.95 424.92,218.75 441.26,226.75 457.6,235.18 473.94,242.76 490.28,244.02" stroke="#f24a4a" stroke-width="1.1" fill="none"/>
<polyline points="375.9,178.31 392.24,184.21 408.58,186.73 424.92,202.74 441.26,215.38 457.6,232.65 473.94,237.28 490.28,240.65" stroke="#2727ee" stroke-width="1.1" fill="none"/>
<line x1="375.9" y1="177.47" x2="375.9" y2="182.52" stroke="#f24a4a" stroke-width="1.0"/>
<line x1="373.6" y1="177.47" x2="378.2" y2="177.47" stroke="#f24a4a" stroke-width="1.0"/>
<line x1="373.6" y1="182.52" x2="378.2" y2="182.52" stroke="#f24a4a" stroke-width="1.0"/>
<rect x="373.6" y="177.69" width="4.6" height="4.6" fill="#f24a4a"/>
<line x1="392.24" y1="188.42" x2="392.24" y2="193.47" stroke="#f24a4a" stroke-width="1.0"/>
<line x1="389.94" y1="188.42" x2="394.54" y2="188.42" stroke="#f24a4a" stroke-width="1.0"/>
<line x1="389.94" y1="193.47" x2="394.54" y2="193.47" stroke="#f24a4a" stroke-width="1.0"/>
<rect x="389.94" y="188.64" width="4.6" height="4.6" fill="#f24a4a"/>
<line x1="408.58" y1="193.89" x2="408.58" y2="204" stroke="#f24a4a" stroke-width="1.0"/>
<line x1="406.28" y1="193.89" x2="410.88" y2="193.89" stroke="#f24a4a" stroke-width="1.0"/>
<line x1="406.28" y1="204" x2="410.88" y2="204" stroke="#f24a4a" stroke-width="1.0"/>
<rect x="406.28" y="196.65" width="4.6" height="4.6" fill="#f24a4a"/>
<line x1="424.92" y1="212.01" x2="424.92" y2="225.49" stroke="#f24a4a" stroke-width="1.0"/>
<line x1="422.62" y1="212.01" x2="427.22" y2="212.01" stroke="#f24a4a" stroke-width="1.0"/>
<line x1="422.62" y1="225.49" x2="427.22" y2="225.49" stroke="#f24a4a" stroke-width="1.0"/>
<rect x="422.62" y="216.45" width="4.6" height="4.6" fill="#f24a4a"/>
<line x1="441.26" y1="222.54" x2="441.26" y2="230.96" stroke="#f24a4a" stroke-width="1.0"/>
<line x1="438.96" y1="222.54" x2="443.56" y2="222.54" stroke="#f24a4a" stroke-width="1.0"/>
<line x1="438.96" y1="230.96" x2="443.56" y2="230.96" stroke="#f24a4a" stroke-width="1.0"/>
<rect x="438.96" y="224.45" width="4.6" height="4.6" fill="#f24a4a"/>
<line x1="457.6" y1="230.12" x2="457.6" y2="240.23" stroke="#f24a4a" stroke-width="1.0"/>
<line x1="455.3" y1="230.12" x2="459.9" y2="230.12" stroke="#f24a4a" stroke-width="1.0"/>
<line x1="455.3" y1="240.23" x2="459.9" y2="240.23" stroke="#f24a4a" stroke-width="1.0"/>
<rect x="455.3" y="232.88" width="4.6" height="4.6" fill="#f24a4a"/>
<line x1="473.94" y1="240.23" x2="473.94" y2="245.29" stroke="#f24a4a" stroke-width="1.0"/>
<line x1="471.64" y1="240.23" x2="476.24" y2="240.23" stroke="#f24a4a" stroke-width="1.0"/>
<line x1="471.64" y1="245.29" x2="476.24" y2="245.29" stroke="#f24a4a" stroke-width="1.0"/>
<rect x="471.64" y="240.46" width="4.6" height="4.6" fill="#f24a4a"/>
<line x1="490.28" y1="238.97" x2="490.28" y2="249.08" stroke="#f24a4a" stroke-width="1.0"/>
<line x1="487.98" y1="238.97" x2="492.58" y2="238.97" stroke="#f24a4a" stroke-width="1.0"/>
<line x1="487.98" y1="249.08" x2="492.58" y2="249.08" stroke="#f24a4a" stroke-width="1.0"/>
<rect x="487.98" y="241.72" width="4.6" height="4.6" fill="#f24a4a"/>
<line x1="375.9" y1="175.78" x2="375.9" y2="180.84" stroke="#2727ee" stroke-width="1.0"/>
<line x1="373.6" y1="175.78" x2="378.2" y2="175.78" stroke="#2727ee" stroke-width="1.0"/>
<line x1="373.6" y1="180.84" x2="378.2" y2="180.84" stroke="#2727ee" stroke-width="1.0"/>
<circle cx="375.9" cy="178.31" r="2.6" fill="#2727ee"/>
<line x1="392.24" y1="181.68" x2="392.24" y2="186.73" stroke="#2727ee" stroke-width="1.0"/>
<line x1="389.94" y1="181.68" x2="394.54" y2="181.68" stroke="#2727ee" stroke-width="1.0"/>
<line x1="389.94" y1="186.73" x2="394.54" y2="186.73" stroke="#2727ee" stroke-width="1.0"/>
<circle cx="392.24" cy="184.21" r="2.6" fill="#2727ee"/>
<line x1="408.58" y1="183.36" x2="408.58" y2="190.1" stroke="#2727ee" stroke-width="1.0"/>
<line x1="406.28" y1="183.36" x2="410.88" y2="183.36" stroke="#2727ee" stroke-width="1.0"/>
<line x1="406.28" y1="190.1" x2="410.88" y2="190.1" stroke="#2727ee" stroke-width="1.0"/>
<circle cx="408.58" cy="186.73" r="2.6" fill="#2727ee"/>
<line x1="424.92" y1="197.69" x2="424.92" y2="207.79" stroke="#2727ee" stroke-width="1.0"/>
<line x1="422.62" y1="197.69" x2="427.22" y2="197.69" stroke="#2727ee" stroke-width="1.0"/>
<line x1="422.62" y1="207.79" x2="427.22" y2="207.79" stroke="#2727ee" stroke-width="1.0"/>
<circle cx="424.92" cy="202.74" r="2.6" fill="#2727ee"/>
<line x1="441.26" y1="209.48" x2="441.26" y2="221.27" stroke="#2727ee" stroke-width="1.0"/>
<line x1="438.96" y1="209.48" x2="443.56" y2="209.48" stroke="#2727ee" stroke-width="1.0"/>
<line x1="438.96" y1="221.27" x2="443.56" y2="221.27" stroke="#2727ee" stroke-width="1.0"/>
<circle cx="441.26" cy="215.38" r="2.6" fill="#2727ee"/>
<line x1="457.6" y1="227.59" x2="457.6" y2="237.7" stroke="#2727ee" stroke-width="1.0"/>
<line x1="455.3" y1="227.59" x2="459.9" y2="227.59" stroke="#2727ee" stroke-width="1.0"/>
<line x1="455.3" y1="237.7" x2="459.9" y2="237.7" stroke="#2727ee" stroke-width="1.0"/>
<circle cx="457.6" cy="232.65" r="2.6" fill="#2727ee"/>
<line x1="473.94" y1="233.07" x2="473.94" y2="241.49" stroke="#2727ee" stroke-width="1.0"/>
<line x1="471.64" y1="233.07" x2="476.24" y2="233.07" stroke="#2727ee" stroke-width="1.0"/>
<line x1="471.64" y1="241.49" x2="476.24" y2="241.49" stroke="#2727ee" stroke-width="1.0"/>
<circle cx="473.94" cy="237.28" r="2.6" fill="#2727ee"/>
<line x1="490.28" y1="235.6" x2="490.28" y2="245.71" stroke="#2727ee" stroke-width="1.0"/>
<line x1="487.98" y1="235.6" x2="492.58" y2="235.6" stroke="#2727ee" stroke-width="1.0"/>
<line x1="487.98" y1="245.71" x2="492.58" y2="245.71" stroke="#2727ee" stroke-width="1.0"/>
<circle cx="490.28" cy="240.65" r="2.6" fill="#2727ee"/>
<text x="408.58" y="212.9" font-size="8.4" text-anchor="middle" fill="#1a1a1a">*</text>
<text x="424.92" y="234.6" font-size="8.4" text-anchor="middle" fill="#1a1a1a">**</text>
<text x="441.26" y="239.7" font-size="8.4" text-anchor="middle" fill="#1a1a1a">**</text>
<line x1="373.8" y1="152.3" x2="385.4" y2="152.3" stroke="#2727ee" stroke-width="0.9"/>
<circle cx="379.6" cy="152.3" r="2.6" fill="#2727ee"/>
<text x="391.7" y="155.4" font-size="8.6" text-anchor="start" fill="#222">NC</text>
<line x1="373.8" y1="166.3" x2="385.4" y2="166.3" stroke="#f24a4a" stroke-width="0.9"/>
<rect x="377.4" y="164" width="4.6" height="4.6" fill="#f24a4a"/>
<text x="391.7" y="169.4" font-size="8.6" text-anchor="start" fill="#222">ASO2</text>
<text x="471.9" y="162.49" font-size="9.7" text-anchor="middle" fill="#111" font-weight="bold">HL-60</text>
<line x1="536" y1="161.8" x2="536" y2="263.4" stroke="#333" stroke-width="1.1"/>
<line x1="536" y1="263.4" x2="665.8" y2="263.4" stroke="#333" stroke-width="1.1"/>
<line x1="532.7" y1="263.4" x2="536" y2="263.4" stroke="#333" stroke-width="1.1"/>
<text x="531.6" y="266.5" font-size="8.6" text-anchor="end" fill="#222">0</text>
<line x1="532.7" y1="246.55" x2="536" y2="246.55" stroke="#333" stroke-width="1.1"/>
<text x="531.6" y="249.65" font-size="8.6" text-anchor="end" fill="#222">20</text>
<line x1="532.7" y1="229.7" x2="536" y2="229.7" stroke="#333" stroke-width="1.1"/>
<text x="531.6" y="232.8" font-size="8.6" text-anchor="end" fill="#222">40</text>
<line x1="532.7" y1="212.85" x2="536" y2="212.85" stroke="#333" stroke-width="1.1"/>
<text x="531.6" y="215.95" font-size="8.6" text-anchor="end" fill="#222">60</text>
<line x1="532.7" y1="196" x2="536" y2="196" stroke="#333" stroke-width="1.1"/>
<text x="531.6" y="199.1" font-size="8.6" text-anchor="end" fill="#222">80</text>
<line x1="532.7" y1="179.15" x2="536" y2="179.15" stroke="#333" stroke-width="1.1"/>
<text x="531.6" y="182.25" font-size="8.6" text-anchor="end" fill="#222">100</text>
<line x1="532.7" y1="162.3" x2="536" y2="162.3" stroke="#333" stroke-width="1.1"/>
<text x="531.6" y="165.4" font-size="8.6" text-anchor="end" fill="#222">120</text>
<line x1="543.9" y1="263.4" x2="543.9" y2="267.2" stroke="#333" stroke-width="1.1"/>
<text x="543.9" y="275.73" font-size="8.7" text-anchor="middle" fill="#222">0</text>
<line x1="560.12" y1="263.4" x2="560.12" y2="267.2" stroke="#333" stroke-width="1.1"/>
<text x="560.12" y="275.73" font-size="8.7" text-anchor="middle" fill="#222">0.25</text>
<line x1="576.34" y1="263.4" x2="576.34" y2="267.2" stroke="#333" stroke-width="1.1"/>
<text x="576.34" y="275.73" font-size="8.7" text-anchor="middle" fill="#222">0.5</text>
<line x1="592.56" y1="263.4" x2="592.56" y2="267.2" stroke="#333" stroke-width="1.1"/>
<text x="592.56" y="275.73" font-size="8.7" text-anchor="middle" fill="#222">1</text>
<line x1="608.78" y1="263.4" x2="608.78" y2="267.2" stroke="#333" stroke-width="1.1"/>
<text x="608.78" y="275.73" font-size="8.7" text-anchor="middle" fill="#222">2</text>
<line x1="625" y1="263.4" x2="625" y2="267.2" stroke="#333" stroke-width="1.1"/>
<text x="625" y="275.73" font-size="8.7" text-anchor="middle" fill="#222">4</text>
<line x1="641.22" y1="263.4" x2="641.22" y2="267.2" stroke="#333" stroke-width="1.1"/>
<text x="641.22" y="275.73" font-size="8.7" text-anchor="middle" fill="#222">8</text>
<line x1="657.44" y1="263.4" x2="657.44" y2="267.2" stroke="#333" stroke-width="1.1"/>
<text x="657.44" y="275.73" font-size="8.7" text-anchor="middle" fill="#222">16</text>
<text x="667.1" y="275.73" font-size="8.7" text-anchor="start" fill="#222">(μM)</text>
<text x="600" y="289.44" font-size="10.1" text-anchor="middle" fill="#222">concentration of RSL3</text>
<text transform="translate(510,211.5) rotate(-90)" x="0" y="3.74" font-size="10.4" text-anchor="middle" fill="#222">Cell viability (%)</text>
<polyline points="543.9,179.99 560.12,197.26 576.34,218.33 592.56,228.44 608.78,235.6 625,241.49 641.22,244.44 657.44,247.81" stroke="#f24a4a" stroke-width="1.1" fill="none"/>
<polyline points="543.9,179.15 560.12,194.31 576.34,208.64 592.56,217.06 608.78,226.33 625,235.18 641.22,239.81 657.44,242.34" stroke="#2727ee" stroke-width="1.1" fill="none"/>
<line x1="543.9" y1="177.47" x2="543.9" y2="182.52" stroke="#f24a4a" stroke-width="1.0"/>
<line x1="541.6" y1="177.47" x2="546.2" y2="177.47" stroke="#f24a4a" stroke-width="1.0"/>
<line x1="541.6" y1="182.52" x2="546.2" y2="182.52" stroke="#f24a4a" stroke-width="1.0"/>
<rect x="541.6" y="177.69" width="4.6" height="4.6" fill="#f24a4a"/>
<line x1="560.12" y1="193.89" x2="560.12" y2="200.63" stroke="#f24a4a" stroke-width="1.0"/>
<line x1="557.82" y1="193.89" x2="562.42" y2="193.89" stroke="#f24a4a" stroke-width="1.0"/>
<line x1="557.82" y1="200.63" x2="562.42" y2="200.63" stroke="#f24a4a" stroke-width="1.0"/>
<rect x="557.82" y="194.96" width="4.6" height="4.6" fill="#f24a4a"/>
<line x1="576.34" y1="214.96" x2="576.34" y2="221.7" stroke="#f24a4a" stroke-width="1.0"/>
<line x1="574.04" y1="214.96" x2="578.64" y2="214.96" stroke="#f24a4a" stroke-width="1.0"/>
<line x1="574.04" y1="221.7" x2="578.64" y2="221.7" stroke="#f24a4a" stroke-width="1.0"/>
<rect x="574.04" y="216.03" width="4.6" height="4.6" fill="#f24a4a"/>
<line x1="592.56" y1="223.38" x2="592.56" y2="233.49" stroke="#f24a4a" stroke-width="1.0"/>
<line x1="590.26" y1="223.38" x2="594.86" y2="223.38" stroke="#f24a4a" stroke-width="1.0"/>
<line x1="590.26" y1="233.49" x2="594.86" y2="233.49" stroke="#f24a4a" stroke-width="1.0"/>
<rect x="590.26" y="226.14" width="4.6" height="4.6" fill="#f24a4a"/>
<line x1="608.78" y1="229.7" x2="608.78" y2="241.49" stroke="#f24a4a" stroke-width="1.0"/>
<line x1="606.48" y1="229.7" x2="611.08" y2="229.7" stroke="#f24a4a" stroke-width="1.0"/>
<line x1="606.48" y1="241.49" x2="611.08" y2="241.49" stroke="#f24a4a" stroke-width="1.0"/>
<rect x="606.48" y="233.3" width="4.6" height="4.6" fill="#f24a4a"/>
<line x1="625" y1="237.28" x2="625" y2="245.71" stroke="#f24a4a" stroke-width="1.0"/>
<line x1="622.7" y1="237.28" x2="627.3" y2="237.28" stroke="#f24a4a" stroke-width="1.0"/>
<line x1="622.7" y1="245.71" x2="627.3" y2="245.71" stroke="#f24a4a" stroke-width="1.0"/>
<rect x="622.7" y="239.19" width="4.6" height="4.6" fill="#f24a4a"/>
<line x1="641.22" y1="240.23" x2="641.22" y2="248.66" stroke="#f24a4a" stroke-width="1.0"/>
<line x1="638.92" y1="240.23" x2="643.52" y2="240.23" stroke="#f24a4a" stroke-width="1.0"/>
<line x1="638.92" y1="248.66" x2="643.52" y2="248.66" stroke="#f24a4a" stroke-width="1.0"/>
<rect x="638.92" y="242.14" width="4.6" height="4.6" fill="#f24a4a"/>
<line x1="657.44" y1="242.76" x2="657.44" y2="252.87" stroke="#f24a4a" stroke-width="1.0"/>
<line x1="655.14" y1="242.76" x2="659.74" y2="242.76" stroke="#f24a4a" stroke-width="1.0"/>
<line x1="655.14" y1="252.87" x2="659.74" y2="252.87" stroke="#f24a4a" stroke-width="1.0"/>
<rect x="655.14" y="245.51" width="4.6" height="4.6" fill="#f24a4a"/>
<line x1="543.9" y1="176.62" x2="543.9" y2="181.68" stroke="#2727ee" stroke-width="1.0"/>
<line x1="541.6" y1="176.62" x2="546.2" y2="176.62" stroke="#2727ee" stroke-width="1.0"/>
<line x1="541.6" y1="181.68" x2="546.2" y2="181.68" stroke="#2727ee" stroke-width="1.0"/>
<circle cx="543.9" cy="179.15" r="2.6" fill="#2727ee"/>
<line x1="560.12" y1="189.26" x2="560.12" y2="199.37" stroke="#2727ee" stroke-width="1.0"/>
<line x1="557.82" y1="189.26" x2="562.42" y2="189.26" stroke="#2727ee" stroke-width="1.0"/>
<line x1="557.82" y1="199.37" x2="562.42" y2="199.37" stroke="#2727ee" stroke-width="1.0"/>
<circle cx="560.12" cy="194.31" r="2.6" fill="#2727ee"/>
<line x1="576.34" y1="203.58" x2="576.34" y2="213.69" stroke="#2727ee" stroke-width="1.0"/>
<line x1="574.04" y1="203.58" x2="578.64" y2="203.58" stroke="#2727ee" stroke-width="1.0"/>
<line x1="574.04" y1="213.69" x2="578.64" y2="213.69" stroke="#2727ee" stroke-width="1.0"/>
<circle cx="576.34" cy="208.64" r="2.6" fill="#2727ee"/>
<line x1="592.56" y1="211.16" x2="592.56" y2="222.96" stroke="#2727ee" stroke-width="1.0"/>
<line x1="590.26" y1="211.16" x2="594.86" y2="211.16" stroke="#2727ee" stroke-width="1.0"/>
<line x1="590.26" y1="222.96" x2="594.86" y2="222.96" stroke="#2727ee" stroke-width="1.0"/>
<circle cx="592.56" cy="217.06" r="2.6" fill="#2727ee"/>
<line x1="608.78" y1="222.12" x2="608.78" y2="230.54" stroke="#2727ee" stroke-width="1.0"/>
<line x1="606.48" y1="222.12" x2="611.08" y2="222.12" stroke="#2727ee" stroke-width="1.0"/>
<line x1="606.48" y1="230.54" x2="611.08" y2="230.54" stroke="#2727ee" stroke-width="1.0"/>
<circle cx="608.78" cy="226.33" r="2.6" fill="#2727ee"/>
<line x1="625" y1="230.96" x2="625" y2="239.39" stroke="#2727ee" stroke-width="1.0"/>
<line x1="622.7" y1="230.96" x2="627.3" y2="230.96" stroke="#2727ee" stroke-width="1.0"/>
<line x1="622.7" y1="239.39" x2="627.3" y2="239.39" stroke="#2727ee" stroke-width="1.0"/>
<circle cx="625" cy="235.18" r="2.6" fill="#2727ee"/>
<line x1="641.22" y1="235.6" x2="641.22" y2="244.02" stroke="#2727ee" stroke-width="1.0"/>
<line x1="638.92" y1="235.6" x2="643.52" y2="235.6" stroke="#2727ee" stroke-width="1.0"/>
<line x1="638.92" y1="244.02" x2="643.52" y2="244.02" stroke="#2727ee" stroke-width="1.0"/>
<circle cx="641.22" cy="239.81" r="2.6" fill="#2727ee"/>
<line x1="657.44" y1="238.97" x2="657.44" y2="245.71" stroke="#2727ee" stroke-width="1.0"/>
<line x1="655.14" y1="238.97" x2="659.74" y2="238.97" stroke="#2727ee" stroke-width="1.0"/>
<line x1="655.14" y1="245.71" x2="659.74" y2="245.71" stroke="#2727ee" stroke-width="1.0"/>
<circle cx="657.44" cy="242.34" r="2.6" fill="#2727ee"/>
<text x="592.56" y="245.3" font-size="8.4" text-anchor="middle" fill="#1a1a1a">**</text>
<text x="608.78" y="250.6" font-size="8.4" text-anchor="middle" fill="#1a1a1a">**</text>
<line x1="539.7" y1="153.6" x2="551.3" y2="153.6" stroke="#2727ee" stroke-width="0.9"/>
<circle cx="545.5" cy="153.6" r="2.6" fill="#2727ee"/>
<text x="557.5" y="156.7" font-size="8.6" text-anchor="start" fill="#222">NC</text>
<line x1="539.7" y1="168.2" x2="551.3" y2="168.2" stroke="#f24a4a" stroke-width="0.9"/>
<rect x="543.3" y="165.9" width="4.6" height="4.6" fill="#f24a4a"/>
<text x="557.5" y="171.3" font-size="8.6" text-anchor="start" fill="#222">ASO2</text>
<text x="642.25" y="162.49" font-size="9.7" text-anchor="middle" fill="#111" font-weight="bold">HL-60</text>
<text x="1.6" y="317.4" font-size="14.2" font-weight="bold" fill="#111">D</text>
<text x="65.9" y="326.19" font-size="9.7" text-anchor="middle" fill="#111" font-weight="bold">THP-1</text>
<text x="65.9" y="332.26" font-size="4.9" text-anchor="middle" fill="#222">Multi-sample : P1</text>
<defs><clipPath id="cp20"><rect x="20" y="334.3" width="93.4" height="93.39999999999998"/></clipPath></defs>
<g clip-path="url(#cp20)">
<polyline points="36,426.98 36.4,426.97 36.8,426.96 37.2,426.95 37.6,426.94 38,426.92 38.4,426.9 38.8,426.87 39.2,426.83 39.6,426.79 40,426.74 40.4,426.67 40.8,426.59 41.2,426.49 41.6,426.38 42,426.24 42.4,425.98 42.8,425.2 43.2,425.35 43.6,425.3 44,424.57 44.4,424.4 44.8,423.72 45.2,423.68 45.6,422.96 46,421.8 46.4,421.01 46.8,420.45 47.2,420.37 47.6,418.51 48,417.29 48.4,415.38 48.8,414.11 49.2,411.69 49.6,410.72 50,408.77 50.4,406.13 50.8,405.74 51.2,403.15 51.6,400.7 52,394.71 52.4,393.73 52.8,390.31 53.2,387.19 53.6,385.54 54,385.04 54.4,378.51 54.8,376.77 55.2,372.12 55.6,372.45 56,369 56.4,362.79 56.8,358.78 57.2,361.53 57.6,361.07 58,357.02 58.4,353.12 58.8,352.33 59.2,351.18 59.6,353.27 60,350.33 60.4,348.39 60.8,351.49 61.2,355.07 61.6,355.37 62,353.09 62.4,358.77 62.8,358.22 63.2,361.31 63.6,361.98 64,364.06 64.4,365.92 64.8,365.48 65.2,369.38 65.6,370.86 66,376 66.4,380.12 66.8,381.9 67.2,389.67 67.6,389.4 68,390.99 68.4,395.38 68.8,396.07 69.2,399.44 69.6,404.48 70,404.68 70.4,407.13 70.8,408.71 71.2,410.09 71.6,410.34 72,412.7 72.4,414.56 72.8,415.71 73.2,418.65 73.6,417.98 74,420.15 74.4,420.4 74.8,422 75.2,422.84 75.6,423.2 76,422.6 76.4,423.39 76.8,424.47 77.2,424.9 77.6,425.55 78,425.54 78.4,425.87 78.8,425.75 79.2,426.36 79.6,426.23 80,426.37 80.4,426.48 80.8,426.57 81.2,426.65 81.6,426.72 82,426.77 82.4,426.81 82.8,426.85 83.2,426.88 83.6,426.9 84,426.92 84.4,426.94 84.8,426.95 85.2,426.96 85.6,426.97 86,426.98 86.4,426.98 86.8,426.99 87.2,426.99 87.6,426.99 88,426.99 88.4,427 88.8,427 89.2,427 89.6,427 90,427" stroke="#f01818" stroke-width="0.75" fill="none"/>
<polyline points="40,426.43 40.4,426.33 40.8,426.21 41.2,425.99 41.61,425.59 42.01,426.19 42.41,425.86 42.81,425.76 43.21,425.73 43.61,425.43 44.01,424.94 44.42,424.41 44.82,424.35 45.22,423.14 45.62,423.08 46.02,424.73 46.42,421.37 46.82,421.14 47.23,420.88 47.63,419.27 48.03,418.17 48.43,417.32 48.83,417.35 49.23,415.38 49.64,416.07 50.04,411.57 50.44,412.85 50.84,410.79 51.24,408.77 51.64,406.7 52.04,405.64 52.45,402.88 52.85,407.96 53.25,402.29 53.65,399.31 54.05,397.57 54.45,391.74 54.85,393.63 55.26,390.97 55.66,393.02 56.06,387.18 56.46,388.35 56.86,387.31 57.26,376.27 57.66,375.56 58.07,375.87 58.47,374.35 58.87,376.98 59.27,375.84 59.67,370.72 60.07,375.25 60.47,369.59 60.88,372.92 61.28,368.58 61.68,370.57 62.08,363.37 62.48,363.53 62.88,368.23 63.28,373.95 63.69,373.31 64.09,371.91 64.49,374.77 64.89,373.03 65.29,371.46 65.69,374.43 66.09,376.95 66.5,375.25 66.9,378.05 67.3,376.61 67.7,379.67 68.1,376.49 68.5,380.85 68.91,384.78 69.31,384.05 69.71,386.48 70.11,388.91 70.51,388.87 70.91,388.11 71.31,395.38 71.72,394.21 72.12,395.35 72.52,396.93 72.92,396.82 73.32,401.99 73.72,401.09 74.12,403.59 74.53,404.86 74.93,406.87 75.33,408.66 75.73,410.46 76.13,410.55 76.53,409.17 76.93,411.14 77.34,412.83 77.74,414.48 78.14,416.88 78.54,417.02 78.94,416.17 79.34,419.94 79.74,419.48 80.15,419.71 80.55,420.89 80.95,421.24 81.35,421.29 81.75,421.11 82.15,422.07 82.55,422.45 82.96,423.66 83.36,423.96 83.76,424.61 84.16,424.92 84.56,425.53 84.96,425.34 85.36,425.12 85.77,425.81 86.17,425.96 86.57,425.97 86.97,426.29 87.37,426.39 87.77,426.48 88.18,426.55 88.58,426.62 88.98,426.68 89.38,426.73 89.78,426.77 90.18,426.8 90.58,426.83 90.99,426.86 91.39,426.88 91.79,426.9 92.19,426.92 92.59,426.93 92.99,426.94 93.39,426.95 93.8,426.96 94.2,426.97 94.6,426.97 95,426.98" stroke="#33f022" stroke-width="0.75" fill="none"/>
<polyline points="44,426.97 44.4,426.96 44.8,426.95 45.2,426.94 45.6,426.93 46,426.91 46.4,426.89 46.8,426.87 47.2,426.84 47.6,426.8 48,426.76 48.4,426.71 48.8,426.65 49.2,426.57 49.6,426.49 50,426.39 50.4,426.28 50.8,426.69 51.2,426.66 51.6,426.1 52,425.75 52.4,425.53 52.8,425.11 53.2,425.38 53.6,424.65 54,423.96 54.4,423.13 54.8,423.42 55.2,422.85 55.6,423.34 56,421.98 56.4,422.33 56.8,421.3 57.2,418.17 57.6,419.44 58,416.24 58.4,414.8 58.8,414.1 59.2,412.02 59.6,410.19 60,407.8 60.4,407.47 60.8,406.62 61.2,405.07 61.6,403.81 62,400.57 62.4,399.26 62.8,394.25 63.2,396.17 63.6,393.88 64,391.35 64.4,391.17 64.8,381.73 65.2,385.82 65.6,381.2 66,378.75 66.4,371.78 66.8,376.17 67.2,369.33 67.6,370.04 68,367.73 68.4,367.16 68.8,362.9 69.2,365.02 69.6,362.39 70,359.96 70.4,355.13 70.8,363.86 71.2,356.65 71.6,355.94 72,359.45 72.4,358.89 72.8,361.11 73.2,357.24 73.6,360.37 74,363.24 74.4,365.14 74.8,366.78 75.2,368.46 75.6,371.89 76,367.74 76.4,376.8 76.8,384.56 77.2,380.97 77.6,381.6 78,382.4 78.4,385.44 78.8,387.88 79.2,389.36 79.6,390.33 80,394.69 80.4,397.38 80.8,395.98 81.2,399.32 81.6,403.96 82,401.93 82.4,404.86 82.8,408.74 83.2,411.68 83.6,411.82 84,414.14 84.4,415.94 84.8,417.51 85.2,417.94 85.6,417.34 86,419.21 86.4,421.14 86.8,420.6 87.2,421.41 87.6,421.59 88,421.87 88.4,423.16 88.8,423.83 89.2,424.25 89.6,425.13 90,424.79 90.4,424.64 90.8,425.25 91.2,425.72 91.6,425.99 92,426.32 92.4,426.21 92.8,426.34 93.2,426.44 93.6,426.53 94,426.61 94.4,426.68 94.8,426.73 95.2,426.78 95.6,426.82 96,426.85 96.4,426.88 96.8,426.9 97.2,426.92 97.6,426.93 98,426.95 98.4,426.96 98.8,426.97 99.2,426.97 99.6,426.98 100,426.98" stroke="#ff30ff" stroke-width="0.75" fill="none"/>
<polyline points="50,427 50.4,426.99 50.8,426.99 51.2,426.99 51.61,426.98 52.01,426.98 52.41,426.97 52.81,426.96 53.21,426.95 53.61,426.93 54.01,426.91 54.41,426.88 54.82,426.85 55.22,426.8 55.62,426.74 56.02,426.67 56.42,426.58 56.82,426.47 57.22,426.33 57.62,426.31 58.03,426.13 58.43,425.37 58.83,425.35 59.23,425.69 59.63,424.67 60.03,424.21 60.43,424.05 60.83,423.4 61.24,422.48 61.64,421.15 62.04,420.22 62.44,418.7 62.84,415.83 63.24,415.9 63.64,414.76 64.04,412.55 64.45,408.99 64.85,408.16 65.25,403.72 65.65,403.76 66.05,401.55 66.45,397.54 66.85,395.32 67.25,392.13 67.66,387.26 68.06,383.01 68.46,380.44 68.86,378.1 69.26,372.32 69.66,370.16 70.06,368.76 70.46,363.72 70.87,364.74 71.27,361.51 71.67,358.33 72.07,357.81 72.47,358.17 72.87,355.94 73.27,357.04 73.68,357.59 74.08,358.82 74.48,354.55 74.88,357.52 75.28,355.3 75.68,356.79 76.08,359.19 76.48,358.71 76.89,360.18 77.29,361.77 77.69,366.19 78.09,365.64 78.49,364.94 78.89,366.67 79.29,367.4 79.69,367.95 80.1,371.39 80.5,370.89 80.9,378.3 81.3,379.55 81.7,385.15 82.1,382.48 82.5,384.27 82.9,383.61 83.31,388.02 83.71,393.16 84.11,391.01 84.51,395.49 84.91,397.91 85.31,398.32 85.71,398.58 86.11,401.31 86.52,402.36 86.92,406.24 87.32,404.17 87.72,406.66 88.12,408.14 88.52,409.02 88.92,410.6 89.32,411.86 89.73,414.07 90.13,414.7 90.53,415.11 90.93,415.42 91.33,417.07 91.73,417.96 92.13,418.59 92.54,419.12 92.94,420 93.34,420.98 93.74,421.8 94.14,421.47 94.54,422.19 94.94,422.85 95.34,421.68 95.75,422.87 96.15,423.48 96.55,424.17 96.95,425 97.35,424.62 97.75,425.11 98.15,425.35 98.55,425.25 98.96,425.36 99.36,425.72 99.76,425.97 100.16,425.65 100.56,426.25 100.96,426.35 101.36,426.43 101.76,426.51 102.17,426.57 102.57,426.63 102.97,426.68 103.37,426.72 103.77,426.76 104.17,426.79 104.57,426.82 104.97,426.85 105.38,426.87 105.78,426.89 106.18,426.91 106.58,426.92 106.98,426.93 107.38,426.94 107.78,426.95 108.18,426.96 108.59,426.97 108.99,426.97 109.39,426.98 109.79,426.98 110.19,426.98 110.59,426.99 110.99,426.99 111.39,426.99 111.8,426.99 112.2,426.99 112.6,426.99 113,427" stroke="#f08030" stroke-width="0.75" fill="none"/>
</g>
<rect x="20" y="334.3" width="93.4" height="93.4" fill="none" stroke="#3a3a3a" stroke-width="0.7"/>
<line x1="18.7" y1="427.7" x2="20" y2="427.7" stroke="#444" stroke-width="0.5"/>
<line x1="18.7" y1="421.47" x2="20" y2="421.47" stroke="#444" stroke-width="0.5"/>
<line x1="18.7" y1="415.25" x2="20" y2="415.25" stroke="#444" stroke-width="0.5"/>
<line x1="18.7" y1="409.02" x2="20" y2="409.02" stroke="#444" stroke-width="0.5"/>
<line x1="18.7" y1="402.79" x2="20" y2="402.79" stroke="#444" stroke-width="0.5"/>
<line x1="18.7" y1="396.57" x2="20" y2="396.57" stroke="#444" stroke-width="0.5"/>
<line x1="18.7" y1="390.34" x2="20" y2="390.34" stroke="#444" stroke-width="0.5"/>
<line x1="18.7" y1="384.11" x2="20" y2="384.11" stroke="#444" stroke-width="0.5"/>
<line x1="18.7" y1="377.89" x2="20" y2="377.89" stroke="#444" stroke-width="0.5"/>
<line x1="18.7" y1="371.66" x2="20" y2="371.66" stroke="#444" stroke-width="0.5"/>
<line x1="18.7" y1="365.43" x2="20" y2="365.43" stroke="#444" stroke-width="0.5"/>
<line x1="18.7" y1="359.21" x2="20" y2="359.21" stroke="#444" stroke-width="0.5"/>
<line x1="18.7" y1="352.98" x2="20" y2="352.98" stroke="#444" stroke-width="0.5"/>
<line x1="18.7" y1="346.75" x2="20" y2="346.75" stroke="#444" stroke-width="0.5"/>
<line x1="18.7" y1="340.53" x2="20" y2="340.53" stroke="#444" stroke-width="0.5"/>
<line x1="18.7" y1="334.3" x2="20" y2="334.3" stroke="#444" stroke-width="0.5"/>
<line x1="17.8" y1="427.7" x2="20" y2="427.7" stroke="#333" stroke-width="0.6"/>
<text transform="translate(14.7,427.7) rotate(-90)" x="0" y="1.8" font-size="5.0" text-anchor="middle" fill="#333">0</text>
<line x1="17.8" y1="396.6" x2="20" y2="396.6" stroke="#333" stroke-width="0.6"/>
<text transform="translate(14.7,396.6) rotate(-90)" x="0" y="1.8" font-size="5.0" text-anchor="middle" fill="#333">100</text>
<line x1="17.8" y1="365.5" x2="20" y2="365.5" stroke="#333" stroke-width="0.6"/>
<text transform="translate(14.7,365.5) rotate(-90)" x="0" y="1.8" font-size="5.0" text-anchor="middle" fill="#333">200</text>
<line x1="17.8" y1="334.4" x2="20" y2="334.4" stroke="#333" stroke-width="0.6"/>
<text transform="translate(14.7,334.4) rotate(-90)" x="0" y="1.8" font-size="5.0" text-anchor="middle" fill="#333">300</text>
<text transform="translate(8,381.7) rotate(-90)" x="0" y="1.76" font-size="4.9" text-anchor="middle" fill="#333">Count</text>
<line x1="23.64" y1="427.7" x2="23.64" y2="429" stroke="#444" stroke-width="0.55"/>
<line x1="27.34" y1="427.7" x2="27.34" y2="429" stroke="#444" stroke-width="0.55"/>
<line x1="30.47" y1="427.7" x2="30.47" y2="429" stroke="#444" stroke-width="0.55"/>
<line x1="33.17" y1="427.7" x2="33.17" y2="429" stroke="#444" stroke-width="0.55"/>
<line x1="35.56" y1="427.7" x2="35.56" y2="429" stroke="#444" stroke-width="0.55"/>
<line x1="37.7" y1="427.7" x2="37.7" y2="430" stroke="#444" stroke-width="0.55"/>
<line x1="51.76" y1="427.7" x2="51.76" y2="429" stroke="#444" stroke-width="0.55"/>
<line x1="59.98" y1="427.7" x2="59.98" y2="429" stroke="#444" stroke-width="0.55"/>
<line x1="65.82" y1="427.7" x2="65.82" y2="429" stroke="#444" stroke-width="0.55"/>
<line x1="70.34" y1="427.7" x2="70.34" y2="429" stroke="#444" stroke-width="0.55"/>
<line x1="74.04" y1="427.7" x2="74.04" y2="429" stroke="#444" stroke-width="0.55"/>
<line x1="77.17" y1="427.7" x2="77.17" y2="429" stroke="#444" stroke-width="0.55"/>
<line x1="79.87" y1="427.7" x2="79.87" y2="429" stroke="#444" stroke-width="0.55"/>
<line x1="82.26" y1="427.7" x2="82.26" y2="429" stroke="#444" stroke-width="0.55"/>
<line x1="84.4" y1="427.7" x2="84.4" y2="430" stroke="#444" stroke-width="0.55"/>
<line x1="98.46" y1="427.7" x2="98.46" y2="429" stroke="#444" stroke-width="0.55"/>
<line x1="106.68" y1="427.7" x2="106.68" y2="429" stroke="#444" stroke-width="0.55"/>
<line x1="112.52" y1="427.7" x2="112.52" y2="429" stroke="#444" stroke-width="0.55"/>
<text x="37.7" y="435.9" font-size="4.8" text-anchor="middle" fill="#333">10<tspan dy="-2" font-size="3.3">3</tspan></text>
<text x="84.4" y="435.9" font-size="4.8" text-anchor="middle" fill="#333">10<tspan dy="-2" font-size="3.3">4</tspan></text>
<text x="60.1" y="441.99" font-size="5.8" text-anchor="middle" fill="#222">C11-BODIPY 581/591</text>
<rect x="117.6" y="342.3" width="4.8" height="5.2" fill="#f01818" stroke="#555" stroke-width="0.3"/>
<rect x="117.6" y="348.6" width="4.8" height="5.2" fill="#33f022" stroke="#555" stroke-width="0.3"/>
<rect x="117.6" y="354.9" width="4.8" height="5.2" fill="#ff30ff" stroke="#555" stroke-width="0.3"/>
<rect x="117.6" y="361.2" width="4.8" height="5.2" fill="#f08030" stroke="#555" stroke-width="0.3"/>
<text x="188.5" y="326.19" font-size="9.7" text-anchor="middle" fill="#111" font-weight="bold">HL-60</text>
<text x="188.5" y="332.26" font-size="4.9" text-anchor="middle" fill="#222">Multi-sample : P1</text>
<defs><clipPath id="cp143"><rect x="143.5" y="334.3" width="93.0" height="93.39999999999998"/></clipPath></defs>
<g clip-path="url(#cp143)">
<polyline points="155,426.98 155.4,426.97 155.8,426.97 156.2,426.96 156.6,426.95 157,426.93 157.4,426.91 157.8,426.89 158.2,426.86 158.6,426.82 159,426.78 159.4,426.73 159.8,426.66 160.2,426.58 160.6,426.49 161,426.37 161.4,426.23 161.8,426.02 162.2,425.97 162.6,425.04 163,425.16 163.4,425.2 163.8,424.68 164.2,424.49 164.6,424.03 165,423.48 165.4,421.62 165.8,421.55 166.2,420.85 166.6,419.64 167,417.54 167.4,417.64 167.8,417.11 168.2,413.33 168.6,414.49 169,412.71 169.4,409.83 169.8,405.77 170.2,406.55 170.6,407.07 171,401.83 171.4,399.97 171.8,397.41 172.2,393.52 172.6,390.68 173,387.68 173.4,385.86 173.8,380.4 174.2,376.2 174.6,375.41 175,374.04 175.4,369.46 175.8,366.63 176.2,366.93 176.6,364.22 177,358.77 177.4,358.05 177.8,357.08 178.2,354.58 178.6,353.48 179,352.41 179.4,355.82 179.8,348.61 180.2,349.8 180.6,352.66 181,349.78 181.4,350.83 181.8,352.37 182.2,351.37 182.6,349.39 183,353.45 183.4,353.66 183.8,353.83 184.2,361.73 184.6,364.47 185,364.24 185.4,370.57 185.8,371.29 186.2,370.3 186.6,372.24 187,375.43 187.4,382.41 187.8,379.02 188.2,382.82 188.6,385.36 189,388.26 189.4,394.09 189.8,396.92 190.2,398.96 190.6,396.85 191,401.33 191.4,403.27 191.8,405.19 192.2,406.07 192.6,407.64 193,409.5 193.4,412.62 193.8,416.22 194.2,415.09 194.6,415.55 195,415.73 195.4,417.58 195.8,419.14 196.2,419.49 196.6,421.42 197,422.12 197.4,422.72 197.8,422.59 198.2,422.04 198.6,422.91 199,423.31 199.4,424.09 199.8,424.54 200.2,425.14 200.6,425.42 201,426.31 201.4,426.3 201.8,426.41 202.2,426.02 202.6,426.22 203,426.34 203.4,426.44 203.8,426.53 204.2,426.6 204.6,426.67 205,426.72 205.4,426.77 205.8,426.81 206.2,426.84 206.6,426.87 207,426.89 207.4,426.91 207.8,426.93 208.2,426.94 208.6,426.95 209,426.96 209.4,426.97 209.8,426.97 210.2,426.98 210.6,426.98 211,426.99 211.4,426.99 211.8,426.99 212.2,426.99 212.6,426.99 213,427 213.4,427 213.8,427 214.2,427 214.6,427 215,427" stroke="#f01818" stroke-width="0.75" fill="none"/>
<polyline points="163,426.9 163.4,426.88 163.8,426.86 164.2,426.83 164.6,426.8 165,426.76 165.4,426.72 165.8,426.66 166.2,426.6 166.6,426.53 167,426.45 167.4,426.35 167.8,426.24 168.2,426.37 168.6,426.5 169,426.09 169.4,425.55 169.8,424.92 170.2,424.89 170.6,425.12 171,424.41 171.4,424.89 171.8,423.77 172.2,423.81 172.6,422.14 173,421.49 173.4,421.26 173.8,421.71 174.2,420.19 174.6,419.28 175,419.16 175.4,418.56 175.8,415.88 176.2,415.89 176.6,414.21 177,411.73 177.4,413.27 177.8,408.87 178.2,407.32 178.6,407.86 179,407.32 179.4,406.36 179.8,401.64 180.2,404.2 180.6,398.16 181,396.07 181.4,395.42 181.8,393.45 182.2,391.1 182.6,388.6 183,384.13 183.4,384.57 183.8,379.29 184.2,376.3 184.6,376.47 185,373.18 185.4,373.27 185.8,370.59 186.2,367.43 186.6,361.84 187,363.6 187.4,363.3 187.8,361.78 188.2,360.96 188.6,362.15 189,354.53 189.4,357.92 189.8,358.45 190.2,358.66 190.6,355.03 191,348.18 191.4,346.06 191.8,350.83 192.2,354.22 192.6,356.61 193,360.33 193.4,357.75 193.8,359.8 194.2,355.95 194.6,361.51 195,365.93 195.4,370.28 195.8,372.55 196.2,368.91 196.6,369.75 197,374.68 197.4,378.3 197.8,376.83 198.2,379.18 198.6,380.11 199,382.36 199.4,385.99 199.8,390.31 200.2,389.44 200.6,390.7 201,392.33 201.4,392.9 201.8,394.5 202.2,398.63 202.6,399.41 203,405.06 203.4,403.62 203.8,405.39 204.2,405.58 204.6,406.77 205,410.57 205.4,411.59 205.8,411.33 206.2,413.99 206.6,414.86 207,416.54 207.4,416.53 207.8,417.46 208.2,419.32 208.6,420.86 209,422.37 209.4,420.89 209.8,421.85 210.2,422.66 210.6,423.12 211,423.79 211.4,423.35 211.8,423.54 212.2,425.29 212.6,424.9 213,424.92 213.4,425.28 213.8,425.37 214.2,424.97 214.6,425.47 215,425.46 215.4,425.63 215.8,426.48 216.2,426.29 216.6,426.39 217,426.47 217.4,426.55 217.8,426.61 218.2,426.67 218.6,426.72 219,426.76 219.4,426.8 219.8,426.83 220.2,426.85 220.6,426.88 221,426.9 221.4,426.91 221.8,426.93 222.2,426.94 222.6,426.95 223,426.96 223.4,426.97 223.8,426.97 224.2,426.98 224.6,426.98 225,426.98" stroke="#33f022" stroke-width="0.75" fill="none"/>
<polyline points="168,426.94 168.4,426.93 168.8,426.92 169.2,426.9 169.6,426.88 170,426.86 170.4,426.83 170.8,426.8 171.2,426.76 171.6,426.72 172,426.66 172.4,426.61 172.8,426.54 173.2,426.46 173.6,426.37 174,426.27 174.4,426.56 174.8,426.67 175.2,426.36 175.6,426.01 176,425.49 176.4,425.29 176.8,424.81 177.2,424.97 177.6,424.37 178,423.87 178.4,424.01 178.8,422.39 179.2,422.2 179.6,421.34 180,421.87 180.4,421.71 180.8,420.9 181.2,419.95 181.6,418.46 182,417.7 182.4,417.45 182.8,417.19 183.2,415.94 183.6,412.89 184,413.31 184.4,411.33 184.8,409.52 185.2,410.39 185.6,407.62 186,403.91 186.4,406.32 186.8,403.45 187.2,401.01 187.6,400.12 188,396.42 188.4,394.87 188.8,395.49 189.2,390.26 189.6,387.51 190,384.73 190.4,381.48 190.8,381.19 191.2,380.22 191.6,381.53 192,376.63 192.4,376.49 192.8,374.91 193.2,375.1 193.6,373.43 194,370.93 194.4,365.03 194.8,370.13 195.2,369.59 195.6,364.75 196,359.82 196.4,359.94 196.8,365.63 197.2,368.62 197.6,362.4 198,363.19 198.4,364.46 198.8,359.93 199.2,358.57 199.6,360.86 200,361.82 200.4,362.25 200.8,360.31 201.2,362.82 201.6,364.65 202,366.06 202.4,372.3 202.8,368.74 203.2,369.56 203.6,371.92 204,379.22 204.4,379.71 204.8,378.04 205.2,384.28 205.6,384.11 206,383.03 206.4,388.53 206.8,385.98 207.2,388.55 207.6,391.89 208,393.34 208.4,394.5 208.8,396.99 209.2,397.32 209.6,401.43 210,403.38 210.4,402.95 210.8,405.35 211.2,408.29 211.6,407.74 212,407.92 212.4,411.21 212.8,414.06 213.2,414.26 213.6,415.08 214,416.17 214.4,415.5 214.8,418.23 215.2,417.55 215.6,420.05 216,420.84 216.4,420.43 216.8,420.41 217.2,421.02 217.6,421.92 218,422.64 218.4,423.15 218.8,423.34 219.2,424.05 219.6,424.25 220,424.38 220.4,424.87 220.8,424.86 221.2,425.1 221.6,424.8 222,425.44 222.4,425.97 222.8,426.18 223.2,426.22 223.6,426.29 224,426.39 224.4,426.47 224.8,426.54 225.2,426.61 225.6,426.66 226,426.71 226.4,426.75 226.8,426.79 227.2,426.82 227.6,426.85 228,426.87 228.4,426.89 228.8,426.91 229.2,426.92 229.6,426.93 230,426.94 230.4,426.95 230.8,426.96 231.2,426.97 231.6,426.97 232,426.98" stroke="#ff30ff" stroke-width="0.75" fill="none"/>
<polyline points="173,426.96 173.4,426.95 173.8,426.94 174.21,426.93 174.61,426.92 175.01,426.9 175.41,426.88 175.81,426.86 176.22,426.83 176.62,426.8 177.02,426.76 177.42,426.72 177.82,426.67 178.22,426.61 178.63,426.54 179.03,426.46 179.43,426.37 179.83,426.27 180.23,426.54 180.64,425.85 181.04,425.9 181.44,425.6 181.84,425.51 182.24,424.26 182.65,424.24 183.05,424.28 183.45,424.7 183.85,423.71 184.25,423.93 184.66,422.69 185.06,423.33 185.46,422.4 185.86,421.08 186.26,421.3 186.66,420.25 187.07,419.34 187.47,417.87 187.87,417.85 188.27,416.21 188.67,413.73 189.08,415.3 189.48,414.41 189.88,411.96 190.28,411.38 190.68,410.96 191.09,406.69 191.49,404.72 191.89,402.72 192.29,400.85 192.69,399.43 193.09,399.75 193.5,400.73 193.9,395.56 194.3,394.89 194.7,391.55 195.1,388.5 195.51,388.77 195.91,385.87 196.31,379.92 196.71,378.27 197.11,380.6 197.52,377.32 197.92,374.54 198.32,371.23 198.72,368.56 199.12,368.09 199.53,367.11 199.93,363.46 200.33,366.06 200.73,360.58 201.13,359.76 201.53,360.56 201.94,360.37 202.34,358.06 202.74,360.66 203.14,363.08 203.54,357.76 203.95,353.79 204.35,356.2 204.75,356.67 205.15,357.25 205.55,359.87 205.96,358.18 206.36,357.38 206.76,359.5 207.16,359.05 207.56,363.79 207.97,363.45 208.37,366.4 208.77,367.79 209.17,367.79 209.57,369.18 209.97,369.48 210.38,371.21 210.78,376.48 211.18,374.79 211.58,380.83 211.98,381.33 212.39,382.16 212.79,384.44 213.19,385.54 213.59,388 213.99,391.66 214.4,391.31 214.8,393.83 215.2,397.09 215.6,397.9 216,399.49 216.41,400.66 216.81,403.33 217.21,404.27 217.61,406.03 218.01,405.53 218.41,408.58 218.82,408.65 219.22,410.99 219.62,411.32 220.02,411.14 220.42,414.35 220.83,415.51 221.23,417.37 221.63,418.34 222.03,419.05 222.43,419.31 222.84,419.32 223.24,419.83 223.64,421.28 224.04,421.7 224.44,423.08 224.84,422.68 225.25,423.3 225.65,424.14 226.05,424.44 226.45,424.19 226.85,424.53 227.26,424.61 227.66,425.2 228.06,425.31 228.46,425.6 228.86,426.17 229.27,426.04 229.67,426.09 230.07,426.32 230.47,426.24 230.87,426.34 231.28,426.43 231.68,426.5 232.08,426.57 232.48,426.63 232.88,426.68 233.28,426.72 233.69,426.76 234.09,426.8 234.49,426.83 234.89,426.85 235.29,426.87 235.7,426.89 236.1,426.91 236.5,426.92" stroke="#f08030" stroke-width="0.75" fill="none"/>
</g>
<rect x="143.5" y="334.3" width="93" height="93.4" fill="none" stroke="#3a3a3a" stroke-width="0.7"/>
<line x1="142.2" y1="427.7" x2="143.5" y2="427.7" stroke="#444" stroke-width="0.5"/>
<line x1="142.2" y1="420.48" x2="143.5" y2="420.48" stroke="#444" stroke-width="0.5"/>
<line x1="142.2" y1="413.25" x2="143.5" y2="413.25" stroke="#444" stroke-width="0.5"/>
<line x1="142.2" y1="406.03" x2="143.5" y2="406.03" stroke="#444" stroke-width="0.5"/>
<line x1="142.2" y1="398.81" x2="143.5" y2="398.81" stroke="#444" stroke-width="0.5"/>
<line x1="142.2" y1="391.58" x2="143.5" y2="391.58" stroke="#444" stroke-width="0.5"/>
<line x1="142.2" y1="384.36" x2="143.5" y2="384.36" stroke="#444" stroke-width="0.5"/>
<line x1="142.2" y1="377.14" x2="143.5" y2="377.14" stroke="#444" stroke-width="0.5"/>
<line x1="142.2" y1="369.91" x2="143.5" y2="369.91" stroke="#444" stroke-width="0.5"/>
<line x1="142.2" y1="362.69" x2="143.5" y2="362.69" stroke="#444" stroke-width="0.5"/>
<line x1="142.2" y1="355.46" x2="143.5" y2="355.46" stroke="#444" stroke-width="0.5"/>
<line x1="142.2" y1="348.24" x2="143.5" y2="348.24" stroke="#444" stroke-width="0.5"/>
<line x1="142.2" y1="341.02" x2="143.5" y2="341.02" stroke="#444" stroke-width="0.5"/>
<line x1="141.3" y1="427.7" x2="143.5" y2="427.7" stroke="#333" stroke-width="0.6"/>
<text transform="translate(138.2,427.7) rotate(-90)" x="0" y="1.8" font-size="5.0" text-anchor="middle" fill="#333">0</text>
<line x1="141.3" y1="391.6" x2="143.5" y2="391.6" stroke="#333" stroke-width="0.6"/>
<text transform="translate(138.2,391.6) rotate(-90)" x="0" y="1.8" font-size="5.0" text-anchor="middle" fill="#333">100</text>
<line x1="141.3" y1="355.5" x2="143.5" y2="355.5" stroke="#333" stroke-width="0.6"/>
<text transform="translate(138.2,355.5) rotate(-90)" x="0" y="1.8" font-size="5.0" text-anchor="middle" fill="#333">200</text>
<text transform="translate(131.5,381.7) rotate(-90)" x="0" y="1.76" font-size="4.9" text-anchor="middle" fill="#333">Count</text>
<line x1="158.86" y1="427.7" x2="158.86" y2="429" stroke="#444" stroke-width="0.55"/>
<line x1="169.78" y1="427.7" x2="169.78" y2="429" stroke="#444" stroke-width="0.55"/>
<line x1="177.53" y1="427.7" x2="177.53" y2="429" stroke="#444" stroke-width="0.55"/>
<line x1="183.54" y1="427.7" x2="183.54" y2="429" stroke="#444" stroke-width="0.55"/>
<line x1="188.45" y1="427.7" x2="188.45" y2="429" stroke="#444" stroke-width="0.55"/>
<line x1="192.6" y1="427.7" x2="192.6" y2="429" stroke="#444" stroke-width="0.55"/>
<line x1="196.19" y1="427.7" x2="196.19" y2="429" stroke="#444" stroke-width="0.55"/>
<line x1="199.36" y1="427.7" x2="199.36" y2="429" stroke="#444" stroke-width="0.55"/>
<line x1="202.2" y1="427.7" x2="202.2" y2="430" stroke="#444" stroke-width="0.55"/>
<line x1="220.86" y1="427.7" x2="220.86" y2="429" stroke="#444" stroke-width="0.55"/>
<line x1="231.78" y1="427.7" x2="231.78" y2="429" stroke="#444" stroke-width="0.55"/>
<text x="202.2" y="435.9" font-size="4.8" text-anchor="middle" fill="#333">10<tspan dy="-2" font-size="3.3">4</tspan></text>
<text x="187.4" y="441.99" font-size="5.8" text-anchor="middle" fill="#222">C11-BODIPY 581/591</text>
<rect x="240.7" y="342.3" width="4.8" height="5.2" fill="#f01818" stroke="#555" stroke-width="0.3"/>
<text x="246.9" y="346.89" font-size="5.8" text-anchor="start" fill="#1a1a1a">NC</text>
<rect x="240.7" y="348.6" width="4.8" height="5.2" fill="#33f022" stroke="#555" stroke-width="0.3"/>
<text x="246.9" y="353.19" font-size="5.8" text-anchor="start" fill="#1a1a1a">ASO2</text>
<rect x="240.7" y="354.9" width="4.8" height="5.2" fill="#ff30ff" stroke="#555" stroke-width="0.3"/>
<text x="246.9" y="359.49" font-size="5.8" text-anchor="start" fill="#1a1a1a">NC+RSL3</text>
<rect x="240.7" y="361.2" width="4.8" height="5.2" fill="#f08030" stroke="#555" stroke-width="0.3"/>
<text x="246.9" y="365.79" font-size="5.8" text-anchor="start" fill="#1a1a1a">ASO2+RSL3</text>
<rect x="325" y="303.5" width="11.2" height="4.6" fill="#8fbbe4"/>
<text x="338.6" y="308.97" font-size="8.8" text-anchor="start" fill="#222">NC</text>
<rect x="382" y="303.5" width="11.2" height="4.6" fill="#d6474c"/>
<text x="394.8" y="308.97" font-size="8.8" text-anchor="start" fill="#222">ASO2</text>
<rect x="325" y="311.8" width="11.2" height="4.6" fill="#80f4f4"/>
<text x="338.6" y="317.27" font-size="8.8" text-anchor="start" fill="#222">NC+RSL3</text>
<rect x="382" y="311.8" width="11.2" height="4.6" fill="#f0822a"/>
<text x="394.8" y="317.27" font-size="8.8" text-anchor="start" fill="#222">ASO2+RLS3</text>
<rect x="319.2" y="427.78" width="10.3" height="6.82" fill="#8fbbe4"/>
<line x1="324.35" y1="424.36" x2="324.35" y2="431.19" stroke="#111" stroke-width="0.9"/>
<line x1="321.05" y1="424.36" x2="327.65" y2="424.36" stroke="#111" stroke-width="0.9"/>
<line x1="321.05" y1="431.19" x2="327.65" y2="431.19" stroke="#111" stroke-width="0.9"/>
<circle cx="324.35" cy="425.73" r="2.2" fill="#000"/>
<circle cx="325.9" cy="428.46" r="2.2" fill="#000"/>
<circle cx="328.47" cy="427.09" r="2.2" fill="#000"/>
<rect x="336.2" y="403.2" width="9.9" height="31.4" fill="#d6474c"/>
<line x1="341.15" y1="400.48" x2="341.15" y2="405.94" stroke="#111" stroke-width="0.9"/>
<line x1="337.98" y1="400.48" x2="344.32" y2="400.48" stroke="#111" stroke-width="0.9"/>
<line x1="337.98" y1="405.94" x2="344.32" y2="405.94" stroke="#111" stroke-width="0.9"/>
<rect x="339.94" y="398.28" width="4.4" height="4.4" fill="#000"/>
<rect x="337.96" y="402.37" width="4.4" height="4.4" fill="#000"/>
<rect x="341.92" y="399.64" width="4.4" height="4.4" fill="#000"/>
<rect x="352.2" y="367.03" width="10.2" height="67.57" fill="#80f4f4"/>
<line x1="357.3" y1="356.11" x2="357.3" y2="377.95" stroke="#111" stroke-width="0.9"/>
<line x1="354.04" y1="356.11" x2="360.56" y2="356.11" stroke="#111" stroke-width="0.9"/>
<line x1="354.04" y1="377.95" x2="360.56" y2="377.95" stroke="#111" stroke-width="0.9"/>
<polygon points="357.3,354.15 354.77,358.77 359.83,358.77" fill="#000"/>
<polygon points="357.3,363.71 354.77,368.33 359.83,368.33" fill="#000"/>
<polygon points="357.3,373.26 354.77,377.88 359.83,377.88" fill="#000"/>
<rect x="368.9" y="339.73" width="10.2" height="94.87" fill="#f0822a"/>
<line x1="374" y1="330.18" x2="374" y2="349.29" stroke="#111" stroke-width="0.9"/>
<line x1="370.74" y1="330.18" x2="377.26" y2="330.18" stroke="#111" stroke-width="0.9"/>
<line x1="370.74" y1="349.29" x2="377.26" y2="349.29" stroke="#111" stroke-width="0.9"/>
<polygon points="374,333.5 371.47,328.88 376.53,328.88" fill="#000"/>
<polygon points="374,341.69 371.47,337.07 376.53,337.07" fill="#000"/>
<polygon points="374,351.24 371.47,346.62 376.53,346.62" fill="#000"/>
<rect x="395.7" y="427.09" width="10.3" height="7.51" fill="#8fbbe4"/>
<line x1="400.85" y1="423" x2="400.85" y2="431.19" stroke="#111" stroke-width="0.9"/>
<line x1="397.55" y1="423" x2="404.15" y2="423" stroke="#111" stroke-width="0.9"/>
<line x1="397.55" y1="431.19" x2="404.15" y2="431.19" stroke="#111" stroke-width="0.9"/>
<circle cx="400.85" cy="423.68" r="2.2" fill="#000"/>
<circle cx="402.91" cy="428.46" r="2.2" fill="#000"/>
<circle cx="404.97" cy="427.09" r="2.2" fill="#000"/>
<rect x="412.7" y="412.08" width="10.2" height="22.52" fill="#d6474c"/>
<line x1="417.8" y1="409.35" x2="417.8" y2="414.81" stroke="#111" stroke-width="0.9"/>
<line x1="414.54" y1="409.35" x2="421.06" y2="409.35" stroke="#111" stroke-width="0.9"/>
<line x1="414.54" y1="414.81" x2="421.06" y2="414.81" stroke="#111" stroke-width="0.9"/>
<rect x="417.64" y="407.15" width="4.4" height="4.4" fill="#000"/>
<rect x="413.56" y="410.56" width="4.4" height="4.4" fill="#000"/>
<rect x="418.66" y="410.56" width="4.4" height="4.4" fill="#000"/>
<rect x="429.6" y="374.54" width="9.9" height="60.06" fill="#80f4f4"/>
<line x1="434.55" y1="369.08" x2="434.55" y2="380" stroke="#111" stroke-width="0.9"/>
<line x1="431.38" y1="369.08" x2="437.72" y2="369.08" stroke="#111" stroke-width="0.9"/>
<line x1="431.38" y1="380" x2="437.72" y2="380" stroke="#111" stroke-width="0.9"/>
<polygon points="434.55,366.44 432.02,371.06 437.08,371.06" fill="#000"/>
<polygon points="434.55,371.9 432.02,376.52 437.08,376.52" fill="#000"/>
<polygon points="434.55,377.36 432.02,381.98 437.08,381.98" fill="#000"/>
<rect x="446.4" y="344.51" width="9.7" height="90.09" fill="#f0822a"/>
<line x1="451.25" y1="336.32" x2="451.25" y2="352.7" stroke="#111" stroke-width="0.9"/>
<line x1="448.15" y1="336.32" x2="454.35" y2="336.32" stroke="#111" stroke-width="0.9"/>
<line x1="448.15" y1="352.7" x2="454.35" y2="352.7" stroke="#111" stroke-width="0.9"/>
<polygon points="451.25,338.96 448.72,334.34 453.78,334.34" fill="#000"/>
<polygon points="451.25,347.15 448.72,342.53 453.78,342.53" fill="#000"/>
<polygon points="451.25,353.97 448.72,349.35 453.78,349.35" fill="#000"/>
<line x1="313.4" y1="324.9" x2="313.4" y2="434.6" stroke="#333" stroke-width="1.1"/>
<line x1="312.9" y1="434.6" x2="463.2" y2="434.6" stroke="#8a8a8a" stroke-width="1.4"/>
<line x1="308.8" y1="434.6" x2="313.4" y2="434.6" stroke="#333" stroke-width="1.1"/>
<text x="308" y="437.66" font-size="8.5" text-anchor="end" fill="#2a2a2a">0</text>
<line x1="308.8" y1="407.3" x2="313.4" y2="407.3" stroke="#333" stroke-width="1.1"/>
<text x="308" y="410.36" font-size="8.5" text-anchor="end" fill="#2a2a2a">20</text>
<line x1="308.8" y1="380" x2="313.4" y2="380" stroke="#333" stroke-width="1.1"/>
<text x="308" y="383.06" font-size="8.5" text-anchor="end" fill="#2a2a2a">40</text>
<line x1="308.8" y1="352.7" x2="313.4" y2="352.7" stroke="#333" stroke-width="1.1"/>
<text x="308" y="355.76" font-size="8.5" text-anchor="end" fill="#2a2a2a">60</text>
<line x1="308.8" y1="325.4" x2="313.4" y2="325.4" stroke="#333" stroke-width="1.1"/>
<text x="308" y="328.46" font-size="8.5" text-anchor="end" fill="#2a2a2a">80</text>
<line x1="349.3" y1="434.6" x2="349.3" y2="438.2" stroke="#333" stroke-width="1.1"/>
<text x="349.3" y="449.6" font-size="10" text-anchor="middle" fill="#111" font-weight="bold">THP-1</text>
<line x1="426.3" y1="434.6" x2="426.3" y2="438.2" stroke="#333" stroke-width="1.1"/>
<text x="426.7" y="449.6" font-size="10" text-anchor="middle" fill="#111" font-weight="bold">HL-60</text>
<polyline points="323.6,405 323.6,391 340.5,391 340.5,395" stroke="#3a3a3a" stroke-width="0.85" fill="none"/>
<text x="332.05" y="390.8" font-size="9.6" text-anchor="middle" fill="#1a1a1a">*</text>
<polyline points="357.2,349.6 357.2,323.4 374.1,323.4 374.1,329.2" stroke="#3a3a3a" stroke-width="0.85" fill="none"/>
<text x="365.65" y="324.7" font-size="9.6" text-anchor="middle" fill="#1a1a1a">**</text>
<polyline points="401,415.3 401,396.4 417.6,396.4 417.6,400.7" stroke="#3a3a3a" stroke-width="0.85" fill="none"/>
<text x="409.3" y="396.8" font-size="9.6" text-anchor="middle" fill="#1a1a1a">*</text>
<polyline points="433.6,354.4 433.6,327.3 450.6,327.3 450.6,329.9" stroke="#3a3a3a" stroke-width="0.85" fill="none"/>
<text x="442.1" y="328.9" font-size="9.6" text-anchor="middle" fill="#1a1a1a">***</text>
<text transform="translate(291.1,374.7) rotate(-90)" x="0" y="3.6" font-size="10" text-anchor="middle" fill="#222">Lipid ROS level (%)</text>
<text x="469.4" y="317.4" font-size="14.2" font-weight="bold" fill="#111">E</text>
<rect x="524.8" y="306.3" width="11" height="4.6" fill="#8fbbe4"/>
<text x="538.4" y="311.77" font-size="8.8" text-anchor="start" fill="#222">NC</text>
<rect x="581.3" y="306.3" width="11" height="4.6" fill="#d6474c"/>
<text x="594.6" y="311.77" font-size="8.8" text-anchor="start" fill="#222">ASO2</text>
<rect x="524.8" y="315.2" width="11" height="4.6" fill="#80f4f4"/>
<text x="538.4" y="320.67" font-size="8.8" text-anchor="start" fill="#222">NC+RSL3</text>
<rect x="581.3" y="315.2" width="11" height="4.6" fill="#f0822a"/>
<text x="594.6" y="320.67" font-size="8.8" text-anchor="start" fill="#222">ASO2+RLS3</text>
<rect x="514.4" y="406.12" width="11.4" height="27.98" fill="#8fbbe4"/>
<line x1="520.1" y1="405.57" x2="520.1" y2="406.68" stroke="#111" stroke-width="0.9"/>
<line x1="516.45" y1="405.57" x2="523.75" y2="405.57" stroke="#111" stroke-width="0.9"/>
<line x1="516.45" y1="406.68" x2="523.75" y2="406.68" stroke="#111" stroke-width="0.9"/>
<circle cx="516.68" cy="406.12" r="2.2" fill="#000"/>
<circle cx="520.1" cy="406.12" r="2.2" fill="#000"/>
<circle cx="523.52" cy="406.12" r="2.2" fill="#000"/>
<rect x="532.3" y="394.94" width="10.7" height="39.17" fill="#d6474c"/>
<line x1="537.65" y1="389.9" x2="537.65" y2="399.97" stroke="#111" stroke-width="0.9"/>
<line x1="534.23" y1="389.9" x2="541.07" y2="389.9" stroke="#111" stroke-width="0.9"/>
<line x1="534.23" y1="399.97" x2="541.07" y2="399.97" stroke="#111" stroke-width="0.9"/>
<rect x="533.31" y="396.93" width="4.4" height="4.4" fill="#000"/>
<rect x="535.45" y="391.34" width="4.4" height="4.4" fill="#000"/>
<rect x="539.19" y="394.13" width="4.4" height="4.4" fill="#000"/>
<rect x="549.1" y="378.15" width="10.7" height="55.95" fill="#80f4f4"/>
<line x1="554.45" y1="374.79" x2="554.45" y2="381.51" stroke="#111" stroke-width="0.9"/>
<line x1="551.03" y1="374.79" x2="557.87" y2="374.79" stroke="#111" stroke-width="0.9"/>
<line x1="551.03" y1="381.51" x2="557.87" y2="381.51" stroke="#111" stroke-width="0.9"/>
<polygon points="554.45,372.15 551.92,376.77 556.98,376.77" fill="#000"/>
<polygon points="554.45,375.51 551.92,380.13 556.98,380.13" fill="#000"/>
<polygon points="557.66,376.91 555.13,381.53 560.19,381.53" fill="#000"/>
<rect x="565.9" y="358.57" width="11.1" height="75.53" fill="#f0822a"/>
<line x1="571.45" y1="354.37" x2="571.45" y2="362.76" stroke="#111" stroke-width="0.9"/>
<line x1="567.9" y1="354.37" x2="575" y2="354.37" stroke="#111" stroke-width="0.9"/>
<line x1="567.9" y1="362.76" x2="575" y2="362.76" stroke="#111" stroke-width="0.9"/>
<polygon points="571.45,357.01 568.92,352.39 573.98,352.39" fill="#000"/>
<polygon points="574.78,358.41 572.25,353.79 577.31,353.79" fill="#000"/>
<polygon points="571.45,363.45 568.92,358.83 573.98,358.83" fill="#000"/>
<rect x="593.8" y="407.52" width="10.7" height="26.58" fill="#8fbbe4"/>
<line x1="599.15" y1="406.12" x2="599.15" y2="408.92" stroke="#111" stroke-width="0.9"/>
<line x1="595.73" y1="406.12" x2="602.57" y2="406.12" stroke="#111" stroke-width="0.9"/>
<line x1="595.73" y1="408.92" x2="602.57" y2="408.92" stroke="#111" stroke-width="0.9"/>
<circle cx="595.94" cy="407.52" r="2.2" fill="#000"/>
<circle cx="599.15" cy="405.57" r="2.2" fill="#000"/>
<circle cx="602.36" cy="407.52" r="2.2" fill="#000"/>
<rect x="611" y="396.33" width="10.7" height="37.77" fill="#d6474c"/>
<line x1="616.35" y1="392.98" x2="616.35" y2="399.69" stroke="#111" stroke-width="0.9"/>
<line x1="612.93" y1="392.98" x2="619.77" y2="392.98" stroke="#111" stroke-width="0.9"/>
<line x1="612.93" y1="399.69" x2="619.77" y2="399.69" stroke="#111" stroke-width="0.9"/>
<rect x="614.15" y="391.34" width="4.4" height="4.4" fill="#000"/>
<rect x="616.29" y="391.34" width="4.4" height="4.4" fill="#000"/>
<rect x="614.15" y="395.53" width="4.4" height="4.4" fill="#000"/>
<rect x="627.8" y="380.95" width="10.7" height="53.15" fill="#80f4f4"/>
<line x1="633.15" y1="375.35" x2="633.15" y2="386.54" stroke="#111" stroke-width="0.9"/>
<line x1="629.73" y1="375.35" x2="636.57" y2="375.35" stroke="#111" stroke-width="0.9"/>
<line x1="629.73" y1="386.54" x2="636.57" y2="386.54" stroke="#111" stroke-width="0.9"/>
<polygon points="633.15,372.71 630.62,377.33 635.68,377.33" fill="#000"/>
<polygon points="633.15,378.31 630.62,382.93 635.68,382.93" fill="#000"/>
<polygon points="633.15,382.5 630.62,387.12 635.68,387.12" fill="#000"/>
<rect x="644.6" y="362.76" width="10.7" height="71.34" fill="#f0822a"/>
<line x1="649.95" y1="359.41" x2="649.95" y2="366.12" stroke="#111" stroke-width="0.9"/>
<line x1="646.53" y1="359.41" x2="653.37" y2="359.41" stroke="#111" stroke-width="0.9"/>
<line x1="646.53" y1="366.12" x2="653.37" y2="366.12" stroke="#111" stroke-width="0.9"/>
<polygon points="647.81,361.21 645.28,356.59 650.34,356.59" fill="#000"/>
<polygon points="649.95,365.4 647.42,360.78 652.48,360.78" fill="#000"/>
<polygon points="653.16,365.4 650.63,360.78 655.69,360.78" fill="#000"/>
<line x1="508" y1="321.7" x2="508" y2="434.1" stroke="#333" stroke-width="1.1"/>
<line x1="507.5" y1="434.1" x2="658.2" y2="434.1" stroke="#8a8a8a" stroke-width="1.4"/>
<line x1="503.4" y1="434.1" x2="508" y2="434.1" stroke="#333" stroke-width="1.1"/>
<text x="502.6" y="437.16" font-size="8.5" text-anchor="end" fill="#2a2a2a">0</text>
<line x1="503.4" y1="406.12" x2="508" y2="406.12" stroke="#333" stroke-width="1.1"/>
<text x="502.6" y="409.19" font-size="8.5" text-anchor="end" fill="#2a2a2a">1</text>
<line x1="503.4" y1="378.15" x2="508" y2="378.15" stroke="#333" stroke-width="1.1"/>
<text x="502.6" y="381.21" font-size="8.5" text-anchor="end" fill="#2a2a2a">2</text>
<line x1="503.4" y1="350.18" x2="508" y2="350.18" stroke="#333" stroke-width="1.1"/>
<text x="502.6" y="353.24" font-size="8.5" text-anchor="end" fill="#2a2a2a">3</text>
<line x1="503.4" y1="322.2" x2="508" y2="322.2" stroke="#333" stroke-width="1.1"/>
<text x="502.6" y="325.26" font-size="8.5" text-anchor="end" fill="#2a2a2a">4</text>
<line x1="546" y1="434.1" x2="546" y2="437.7" stroke="#333" stroke-width="1.1"/>
<text x="545.5" y="448.4" font-size="10" text-anchor="middle" fill="#111" font-weight="bold">THP-1</text>
<line x1="624.8" y1="434.1" x2="624.8" y2="437.7" stroke="#333" stroke-width="1.1"/>
<text x="624.2" y="448.4" font-size="10" text-anchor="middle" fill="#111" font-weight="bold">HL-60</text>
<polyline points="520.5,385.8 520.5,372.2 537.6,372.2 537.6,375" stroke="#3a3a3a" stroke-width="0.85" fill="none"/>
<text x="529.05" y="372.6" font-size="9.6" text-anchor="middle" fill="#1a1a1a">*</text>
<polyline points="553.7,359 553.7,342.4 571.3,342.4 571.3,344.7" stroke="#3a3a3a" stroke-width="0.85" fill="none"/>
<text x="562.5" y="342.4" font-size="9.6" text-anchor="middle" fill="#1a1a1a">**</text>
<polyline points="598,389.4 598,379.4 616.3,379.4 616.3,381.5" stroke="#3a3a3a" stroke-width="0.85" fill="none"/>
<text x="607.15" y="379.8" font-size="9.6" text-anchor="middle" fill="#1a1a1a">*</text>
<polyline points="633.1,366.2 633.1,346.4 649.2,346.4 649.2,348.3" stroke="#3a3a3a" stroke-width="0.85" fill="none"/>
<text x="641.15" y="346.8" font-size="9.6" text-anchor="middle" fill="#1a1a1a">***</text>
<text transform="translate(490.1,377.1) rotate(-90)" x="0" y="3.6" font-size="10" text-anchor="middle" fill="#222">MDA level (fold change)</text>
<text x="2" y="474.9" font-size="14.2" font-weight="bold" fill="#111">F</text>
<rect x="57.1" y="476.1" width="10.6" height="4.6" fill="#8fbbe4"/>
<text x="70.1" y="481.5" font-size="8.6" text-anchor="start" fill="#222">NC</text>
<rect x="100.3" y="476.1" width="10.6" height="4.6" fill="#d6474c"/>
<text x="113.4" y="481.5" font-size="8.6" text-anchor="start" fill="#222">ASO2</text>
<rect x="48" y="547.5" width="15.1" height="40.4" fill="#8fbbe4"/>
<line x1="55.55" y1="544.27" x2="55.55" y2="550.73" stroke="#111" stroke-width="0.9"/>
<line x1="50.72" y1="544.27" x2="60.38" y2="544.27" stroke="#111" stroke-width="0.9"/>
<line x1="50.72" y1="550.73" x2="60.38" y2="550.73" stroke="#111" stroke-width="0.9"/>
<circle cx="52.53" cy="549.52" r="2.3" fill="#000"/>
<circle cx="55.55" cy="545.48" r="2.3" fill="#000"/>
<circle cx="62.34" cy="544.67" r="2.3" fill="#000"/>
<rect x="73.3" y="515.18" width="14.8" height="72.72" fill="#d6474c"/>
<line x1="80.7" y1="509.93" x2="80.7" y2="520.43" stroke="#111" stroke-width="0.9"/>
<line x1="75.96" y1="509.93" x2="85.44" y2="509.93" stroke="#111" stroke-width="0.9"/>
<line x1="75.96" y1="520.43" x2="85.44" y2="520.43" stroke="#111" stroke-width="0.9"/>
<rect x="73.96" y="508.03" width="4.6" height="4.6" fill="#000"/>
<rect x="78.4" y="516.11" width="4.6" height="4.6" fill="#000"/>
<rect x="85.06" y="508.84" width="4.6" height="4.6" fill="#000"/>
<rect x="115" y="547.5" width="14.8" height="40.4" fill="#8fbbe4"/>
<line x1="122.4" y1="544.67" x2="122.4" y2="550.33" stroke="#111" stroke-width="0.9"/>
<line x1="117.66" y1="544.67" x2="127.14" y2="544.67" stroke="#111" stroke-width="0.9"/>
<line x1="117.66" y1="550.33" x2="127.14" y2="550.33" stroke="#111" stroke-width="0.9"/>
<circle cx="119.44" cy="549.52" r="2.3" fill="#000"/>
<circle cx="122.4" cy="546.69" r="2.3" fill="#000"/>
<circle cx="129.06" cy="544.67" r="2.3" fill="#000"/>
<rect x="140" y="530.53" width="15.1" height="57.37" fill="#d6474c"/>
<line x1="147.55" y1="525.28" x2="147.55" y2="535.78" stroke="#111" stroke-width="0.9"/>
<line x1="142.72" y1="525.28" x2="152.38" y2="525.28" stroke="#111" stroke-width="0.9"/>
<line x1="142.72" y1="535.78" x2="152.38" y2="535.78" stroke="#111" stroke-width="0.9"/>
<rect x="145.25" y="522.98" width="4.6" height="4.6" fill="#000"/>
<rect x="145.25" y="527.02" width="4.6" height="4.6" fill="#000"/>
<rect x="145.25" y="530.25" width="4.6" height="4.6" fill="#000"/>
<line x1="38.3" y1="486.4" x2="38.3" y2="587.9" stroke="#333" stroke-width="1.1"/>
<line x1="37.8" y1="587.9" x2="163.5" y2="587.9" stroke="#8a8a8a" stroke-width="1.4"/>
<line x1="33.7" y1="587.9" x2="38.3" y2="587.9" stroke="#333" stroke-width="1.1"/>
<text x="32.9" y="590.96" font-size="8.5" text-anchor="end" fill="#2a2a2a">0.0</text>
<line x1="33.7" y1="567.7" x2="38.3" y2="567.7" stroke="#333" stroke-width="1.1"/>
<text x="32.9" y="570.76" font-size="8.5" text-anchor="end" fill="#2a2a2a">0.5</text>
<line x1="33.7" y1="547.5" x2="38.3" y2="547.5" stroke="#333" stroke-width="1.1"/>
<text x="32.9" y="550.56" font-size="8.5" text-anchor="end" fill="#2a2a2a">1.0</text>
<line x1="33.7" y1="527.3" x2="38.3" y2="527.3" stroke="#333" stroke-width="1.1"/>
<text x="32.9" y="530.36" font-size="8.5" text-anchor="end" fill="#2a2a2a">1.5</text>
<line x1="33.7" y1="507.1" x2="38.3" y2="507.1" stroke="#333" stroke-width="1.1"/>
<text x="32.9" y="510.16" font-size="8.5" text-anchor="end" fill="#2a2a2a">2.0</text>
<line x1="33.7" y1="486.9" x2="38.3" y2="486.9" stroke="#333" stroke-width="1.1"/>
<text x="32.9" y="489.96" font-size="8.5" text-anchor="end" fill="#2a2a2a">2.5</text>
<line x1="68.2" y1="587.9" x2="68.2" y2="591.5" stroke="#333" stroke-width="1.1"/>
<text x="67.7" y="603" font-size="10" text-anchor="middle" fill="#111" font-weight="bold">THP-1</text>
<line x1="134.9" y1="587.9" x2="134.9" y2="591.5" stroke="#333" stroke-width="1.1"/>
<text x="135.4" y="603" font-size="10" text-anchor="middle" fill="#111" font-weight="bold">HL-60</text>
<polyline points="54.9,527.8 54.9,501 80.5,501 80.5,504.8" stroke="#3a3a3a" stroke-width="0.85" fill="none"/>
<text x="67.7" y="501.2" font-size="9.6" text-anchor="middle" fill="#1a1a1a">**</text>
<polyline points="121.4,541.9 121.4,515.6 146.9,515.6 146.9,522.7" stroke="#3a3a3a" stroke-width="0.85" fill="none"/>
<text x="134.15" y="514.8" font-size="9.6" text-anchor="middle" fill="#1a1a1a">**</text>
<text transform="translate(9.8,535.3) rotate(-90)" x="0" y="3.6" font-size="10" text-anchor="middle" fill="#222">Iron level (fold change)</text>
<text x="161" y="475.2" font-size="14.2" font-weight="bold" fill="#111">G</text>
<rect x="230.2" y="476.1" width="10.6" height="4.6" fill="#8fbbe4"/>
<text x="243.2" y="481.5" font-size="8.6" text-anchor="start" fill="#222">NC</text>
<rect x="273.2" y="476.1" width="10.6" height="4.6" fill="#d6474c"/>
<text x="286.2" y="481.5" font-size="8.6" text-anchor="start" fill="#222">ASO2</text>
<rect x="229.4" y="544.79" width="14.9" height="43.01" fill="#8fbbe4"/>
<line x1="236.85" y1="542.1" x2="236.85" y2="547.48" stroke="#111" stroke-width="0.9"/>
<line x1="232.08" y1="542.1" x2="241.62" y2="542.1" stroke="#111" stroke-width="0.9"/>
<line x1="232.08" y1="547.48" x2="241.62" y2="547.48" stroke="#111" stroke-width="0.9"/>
<circle cx="232.38" cy="546.14" r="2.3" fill="#000"/>
<circle cx="238.34" cy="542.1" r="2.3" fill="#000"/>
<circle cx="243.56" cy="544.12" r="2.3" fill="#000"/>
<rect x="253.8" y="515.22" width="14.2" height="72.58" fill="#d6474c"/>
<line x1="260.9" y1="503.8" x2="260.9" y2="526.65" stroke="#111" stroke-width="0.9"/>
<line x1="256.36" y1="503.8" x2="265.44" y2="503.8" stroke="#111" stroke-width="0.9"/>
<line x1="256.36" y1="526.65" x2="265.44" y2="526.65" stroke="#111" stroke-width="0.9"/>
<rect x="258.6" y="504.86" width="4.6" height="4.6" fill="#000"/>
<rect x="258.6" y="510.24" width="4.6" height="4.6" fill="#000"/>
<rect x="258.6" y="523.68" width="4.6" height="4.6" fill="#000"/>
<rect x="293.2" y="536.06" width="14.5" height="51.74" fill="#8fbbe4"/>
<line x1="300.45" y1="529.34" x2="300.45" y2="542.78" stroke="#111" stroke-width="0.9"/>
<line x1="295.81" y1="529.34" x2="305.09" y2="529.34" stroke="#111" stroke-width="0.9"/>
<line x1="295.81" y1="542.78" x2="305.09" y2="542.78" stroke="#111" stroke-width="0.9"/>
<circle cx="300.45" cy="530.01" r="2.3" fill="#000"/>
<circle cx="300.45" cy="535.38" r="2.3" fill="#000"/>
<circle cx="300.45" cy="540.76" r="2.3" fill="#000"/>
<rect x="316.9" y="517.24" width="14.4" height="70.56" fill="#d6474c"/>
<line x1="324.1" y1="507.83" x2="324.1" y2="526.65" stroke="#111" stroke-width="0.9"/>
<line x1="319.49" y1="507.83" x2="328.71" y2="507.83" stroke="#111" stroke-width="0.9"/>
<line x1="319.49" y1="526.65" x2="328.71" y2="526.65" stroke="#111" stroke-width="0.9"/>
<rect x="321.8" y="505.53" width="4.6" height="4.6" fill="#000"/>
<rect x="321.8" y="514.27" width="4.6" height="4.6" fill="#000"/>
<rect x="321.8" y="523" width="4.6" height="4.6" fill="#000"/>
<line x1="221" y1="486.5" x2="221" y2="587.8" stroke="#333" stroke-width="1.1"/>
<line x1="220.5" y1="587.8" x2="340.5" y2="587.8" stroke="#8a8a8a" stroke-width="1.4"/>
<line x1="216.4" y1="587.8" x2="221" y2="587.8" stroke="#333" stroke-width="1.1"/>
<text x="215.6" y="590.86" font-size="8.5" text-anchor="end" fill="#2a2a2a">0</text>
<line x1="216.4" y1="554.2" x2="221" y2="554.2" stroke="#333" stroke-width="1.1"/>
<text x="215.6" y="557.26" font-size="8.5" text-anchor="end" fill="#2a2a2a">500</text>
<line x1="216.4" y1="520.6" x2="221" y2="520.6" stroke="#333" stroke-width="1.1"/>
<text x="215.6" y="523.66" font-size="8.5" text-anchor="end" fill="#2a2a2a">1000</text>
<line x1="216.4" y1="487" x2="221" y2="487" stroke="#333" stroke-width="1.1"/>
<text x="215.6" y="490.06" font-size="8.5" text-anchor="end" fill="#2a2a2a">1500</text>
<line x1="249" y1="587.8" x2="249" y2="591.4" stroke="#333" stroke-width="1.1"/>
<text x="247.8" y="603.1" font-size="10" text-anchor="middle" fill="#111" font-weight="bold">THP-1</text>
<line x1="312.3" y1="587.8" x2="312.3" y2="591.4" stroke="#333" stroke-width="1.1"/>
<text x="313.5" y="603.1" font-size="10" text-anchor="middle" fill="#111" font-weight="bold">HL-60</text>
<polyline points="235.4,520.7 235.4,495.7 261.7,495.7 261.7,498.4" stroke="#3a3a3a" stroke-width="0.85" fill="none"/>
<text x="248.55" y="495.3" font-size="9.6" text-anchor="middle" fill="#1a1a1a">**</text>
<polyline points="297.7,518 297.7,500.2 323.4,500.2 323.4,503.6" stroke="#3a3a3a" stroke-width="0.85" fill="none"/>
<text x="310.55" y="500.5" font-size="9.6" text-anchor="middle" fill="#1a1a1a">*</text>
<text transform="translate(177.1,542.4) rotate(-90)" x="0" y="3.6" font-size="10" text-anchor="middle" fill="#222">Relative LIP</text>
<text transform="translate(189.2,577.0) rotate(-90)" x="0" y="3.6" font-size="10.2" fill="#222">C-AM MFI+/-DFO</text>
<polygon points="185.1,581.8 192.7,578.0 192.7,585.6" fill="none" stroke="#333" stroke-width="0.75"/>
<text x="341.6" y="475.2" font-size="14.2" font-weight="bold" fill="#111">H</text>
<rect x="399.4" y="476.1" width="10.6" height="4.6" fill="#8fbbe4"/>
<text x="412.4" y="481.5" font-size="8.6" text-anchor="start" fill="#222">NC</text>
<rect x="442.7" y="476.1" width="10.6" height="4.6" fill="#d6474c"/>
<text x="455.7" y="481.5" font-size="8.6" text-anchor="start" fill="#222">ASO2</text>
<rect x="399.4" y="520.4" width="14.9" height="67.8" fill="#8fbbe4"/>
<line x1="406.85" y1="514.98" x2="406.85" y2="525.82" stroke="#111" stroke-width="0.9"/>
<line x1="402.08" y1="514.98" x2="411.62" y2="514.98" stroke="#111" stroke-width="0.9"/>
<line x1="402.08" y1="525.82" x2="411.62" y2="525.82" stroke="#111" stroke-width="0.9"/>
<circle cx="406.85" cy="525.15" r="2.3" fill="#000"/>
<circle cx="406.85" cy="520.4" r="2.3" fill="#000"/>
<circle cx="413.56" cy="517.69" r="2.3" fill="#000"/>
<rect x="424.3" y="557.01" width="15" height="31.19" fill="#d6474c"/>
<line x1="431.8" y1="553.62" x2="431.8" y2="560.4" stroke="#111" stroke-width="0.9"/>
<line x1="427" y1="553.62" x2="436.6" y2="553.62" stroke="#111" stroke-width="0.9"/>
<line x1="427" y1="560.4" x2="436.6" y2="560.4" stroke="#111" stroke-width="0.9"/>
<rect x="429.5" y="557.42" width="4.6" height="4.6" fill="#000"/>
<rect x="429.5" y="554.03" width="4.6" height="4.6" fill="#000"/>
<rect x="436.25" y="552" width="4.6" height="4.6" fill="#000"/>
<rect x="466.4" y="522.43" width="14.9" height="65.77" fill="#8fbbe4"/>
<line x1="473.85" y1="517.01" x2="473.85" y2="527.86" stroke="#111" stroke-width="0.9"/>
<line x1="469.08" y1="517.01" x2="478.62" y2="517.01" stroke="#111" stroke-width="0.9"/>
<line x1="469.08" y1="527.86" x2="478.62" y2="527.86" stroke="#111" stroke-width="0.9"/>
<circle cx="470.87" cy="525.15" r="2.3" fill="#000"/>
<circle cx="475.34" cy="514.98" r="2.3" fill="#000"/>
<circle cx="480.56" cy="525.15" r="2.3" fill="#000"/>
<rect x="491.3" y="552.94" width="14.5" height="35.26" fill="#d6474c"/>
<line x1="498.55" y1="549.55" x2="498.55" y2="556.33" stroke="#111" stroke-width="0.9"/>
<line x1="493.91" y1="549.55" x2="503.19" y2="549.55" stroke="#111" stroke-width="0.9"/>
<line x1="493.91" y1="556.33" x2="503.19" y2="556.33" stroke="#111" stroke-width="0.9"/>
<rect x="496.25" y="554.03" width="4.6" height="4.6" fill="#000"/>
<rect x="496.25" y="550.64" width="4.6" height="4.6" fill="#000"/>
<rect x="502.77" y="547.93" width="4.6" height="4.6" fill="#000"/>
<line x1="389.4" y1="486" x2="389.4" y2="588.2" stroke="#333" stroke-width="1.1"/>
<line x1="388.9" y1="588.2" x2="515.5" y2="588.2" stroke="#8a8a8a" stroke-width="1.4"/>
<line x1="384.8" y1="588.2" x2="389.4" y2="588.2" stroke="#333" stroke-width="1.1"/>
<text x="384" y="591.26" font-size="8.5" text-anchor="end" fill="#2a2a2a">0.0</text>
<line x1="384.8" y1="554.3" x2="389.4" y2="554.3" stroke="#333" stroke-width="1.1"/>
<text x="384" y="557.36" font-size="8.5" text-anchor="end" fill="#2a2a2a">0.5</text>
<line x1="384.8" y1="520.4" x2="389.4" y2="520.4" stroke="#333" stroke-width="1.1"/>
<text x="384" y="523.46" font-size="8.5" text-anchor="end" fill="#2a2a2a">1.0</text>
<line x1="384.8" y1="486.5" x2="389.4" y2="486.5" stroke="#333" stroke-width="1.1"/>
<text x="384" y="489.56" font-size="8.5" text-anchor="end" fill="#2a2a2a">1.5</text>
<line x1="419.3" y1="588.2" x2="419.3" y2="591.8" stroke="#333" stroke-width="1.1"/>
<text x="420.4" y="603.1" font-size="10" text-anchor="middle" fill="#111" font-weight="bold">THP-1</text>
<line x1="486.3" y1="588.2" x2="486.3" y2="591.8" stroke="#333" stroke-width="1.1"/>
<text x="488.7" y="603.1" font-size="10" text-anchor="middle" fill="#111" font-weight="bold">HL-60</text>
<polyline points="406.5,514.1 406.5,508.3 431.7,508.3 431.7,534.3" stroke="#3a3a3a" stroke-width="0.85" fill="none"/>
<text x="419.1" y="508.4" font-size="9.6" text-anchor="middle" fill="#1a1a1a">***</text>
<polyline points="473,511.5 473,504.9 497.9,504.9 497.9,532.5" stroke="#3a3a3a" stroke-width="0.85" fill="none"/>
<text x="485.45" y="505" font-size="9.6" text-anchor="middle" fill="#1a1a1a">**</text>
<text transform="translate(362.6,534.5) rotate(-90)" x="0" y="3.6" font-size="10" text-anchor="middle" fill="#222">Relative GSH/GSSG ratio</text>
<text x="508.6" y="475.2" font-size="14.2" font-weight="bold" fill="#111">I</text>
<rect x="572.8" y="476.1" width="10.6" height="4.6" fill="#8fbbe4"/>
<text x="585.5" y="481.5" font-size="8.6" text-anchor="start" fill="#222">NC</text>
<rect x="615.9" y="476.1" width="10.6" height="4.6" fill="#d6474c"/>
<text x="628.5" y="481.5" font-size="8.6" text-anchor="start" fill="#222">ASO2</text>
<rect x="566.7" y="521.08" width="15" height="67.12" fill="#8fbbe4"/>
<line x1="574.2" y1="514.3" x2="574.2" y2="527.86" stroke="#111" stroke-width="0.9"/>
<line x1="569.4" y1="514.3" x2="579" y2="514.3" stroke="#111" stroke-width="0.9"/>
<line x1="569.4" y1="527.86" x2="579" y2="527.86" stroke="#111" stroke-width="0.9"/>
<circle cx="574.2" cy="525.15" r="2.3" fill="#000"/>
<circle cx="574.2" cy="520.4" r="2.3" fill="#000"/>
<circle cx="580.95" cy="517.01" r="2.3" fill="#000"/>
<rect x="591.7" y="561.08" width="15.3" height="27.12" fill="#d6474c"/>
<line x1="599.35" y1="555.66" x2="599.35" y2="566.5" stroke="#111" stroke-width="0.9"/>
<line x1="594.45" y1="555.66" x2="604.25" y2="555.66" stroke="#111" stroke-width="0.9"/>
<line x1="594.45" y1="566.5" x2="604.25" y2="566.5" stroke="#111" stroke-width="0.9"/>
<rect x="597.05" y="562.17" width="4.6" height="4.6" fill="#000"/>
<rect x="597.05" y="557.42" width="4.6" height="4.6" fill="#000"/>
<rect x="603.94" y="554.71" width="4.6" height="4.6" fill="#000"/>
<rect x="633.7" y="521.08" width="15.3" height="67.12" fill="#8fbbe4"/>
<line x1="641.35" y1="512.94" x2="641.35" y2="529.21" stroke="#111" stroke-width="0.9"/>
<line x1="636.45" y1="512.94" x2="646.25" y2="512.94" stroke="#111" stroke-width="0.9"/>
<line x1="636.45" y1="529.21" x2="646.25" y2="529.21" stroke="#111" stroke-width="0.9"/>
<circle cx="641.35" cy="525.82" r="2.3" fill="#000"/>
<circle cx="641.35" cy="522.43" r="2.3" fill="#000"/>
<circle cx="641.35" cy="512.26" r="2.3" fill="#000"/>
<rect x="658.7" y="557.01" width="15" height="31.19" fill="#d6474c"/>
<line x1="666.2" y1="552.94" x2="666.2" y2="561.08" stroke="#111" stroke-width="0.9"/>
<line x1="661.4" y1="552.94" x2="671" y2="552.94" stroke="#111" stroke-width="0.9"/>
<line x1="661.4" y1="561.08" x2="671" y2="561.08" stroke="#111" stroke-width="0.9"/>
<rect x="663.9" y="557.42" width="4.6" height="4.6" fill="#000"/>
<rect x="663.9" y="554.71" width="4.6" height="4.6" fill="#000"/>
<rect x="670.65" y="552" width="4.6" height="4.6" fill="#000"/>
<line x1="557.5" y1="486" x2="557.5" y2="588.2" stroke="#333" stroke-width="1.1"/>
<line x1="557" y1="588.2" x2="683.7" y2="588.2" stroke="#8a8a8a" stroke-width="1.4"/>
<line x1="552.9" y1="588.2" x2="557.5" y2="588.2" stroke="#333" stroke-width="1.1"/>
<text x="552.1" y="591.26" font-size="8.5" text-anchor="end" fill="#2a2a2a">0.0</text>
<line x1="552.9" y1="554.3" x2="557.5" y2="554.3" stroke="#333" stroke-width="1.1"/>
<text x="552.1" y="557.36" font-size="8.5" text-anchor="end" fill="#2a2a2a">0.5</text>
<line x1="552.9" y1="520.4" x2="557.5" y2="520.4" stroke="#333" stroke-width="1.1"/>
<text x="552.1" y="523.46" font-size="8.5" text-anchor="end" fill="#2a2a2a">1.0</text>
<line x1="552.9" y1="486.5" x2="557.5" y2="486.5" stroke="#333" stroke-width="1.1"/>
<text x="552.1" y="489.56" font-size="8.5" text-anchor="end" fill="#2a2a2a">1.5</text>
<line x1="586.7" y1="588.2" x2="586.7" y2="591.8" stroke="#333" stroke-width="1.1"/>
<text x="585.1" y="603.1" font-size="10" text-anchor="middle" fill="#111" font-weight="bold">THP-1</text>
<line x1="653.9" y1="588.2" x2="653.9" y2="591.8" stroke="#333" stroke-width="1.1"/>
<text x="653.4" y="603.1" font-size="10" text-anchor="middle" fill="#111" font-weight="bold">HL-60</text>
<polyline points="573.8,514.1 573.8,506.8 599.1,506.8 599.1,533.3" stroke="#3a3a3a" stroke-width="0.85" fill="none"/>
<text x="586.45" y="507.1" font-size="9.6" text-anchor="middle" fill="#1a1a1a">***</text>
<polyline points="640.3,510.2 640.3,503.6 665.8,503.6 665.8,531.2" stroke="#3a3a3a" stroke-width="0.85" fill="none"/>
<text x="653.05" y="503.9" font-size="9.6" text-anchor="middle" fill="#1a1a1a">**</text>
<text transform="translate(530.8,533.6) rotate(-90)" x="0" y="3.6" font-size="10" text-anchor="middle" fill="#222">Relative NADPH/NADP<tspan dy="-3.5" font-size="6.5">+</tspan><tspan dy="3.5"> ratio</tspan></text>
<text x="2.3" y="634.5" font-size="14.2" font-weight="bold" fill="#111">J</text>
<text x="71.8" y="631.4" font-size="10" text-anchor="middle" fill="#111" font-weight="bold">THP-1</text>
<text x="126.2" y="631.4" font-size="10" text-anchor="middle" fill="#111" font-weight="bold">HL-60</text>
<text transform="translate(51.5,652.2) rotate(-45)" x="0" y="0" font-size="9.3" fill="#222">NC</text>
<text transform="translate(77.7,652.2) rotate(-45)" x="0" y="0" font-size="9.3" fill="#222">ASO2</text>
<text transform="translate(108.5,652.2) rotate(-45)" x="0" y="0" font-size="9.3" fill="#222">NC</text>
<text transform="translate(135.1,652.2) rotate(-45)" x="0" y="0" font-size="9.3" fill="#222">ASO2</text>
<text x="148.4" y="654.6" font-size="8.6" text-anchor="start" fill="#222">kDa</text>
<defs><filter id="wb" x="-30%" y="-100%" width="160%" height="300%"><feGaussianBlur stdDeviation="1.0 0.75"/></filter><filter id="wb2" x="-30%" y="-100%" width="160%" height="300%"><feGaussianBlur stdDeviation="2.0 1.3"/></filter></defs>
<defs><linearGradient id="gshade" x1="0" y1="0" x2="0" y2="1"><stop offset="0" stop-color="#000" stop-opacity="0.07"/><stop offset="0.5" stop-color="#000" stop-opacity="0"/><stop offset="1" stop-color="#000" stop-opacity="0.04"/></linearGradient></defs>
<text x="36.9" y="668.8" font-size="10" text-anchor="end" fill="#222">FTL</text>
<text x="151.2" y="668.66" font-size="9.6" text-anchor="start" fill="#222">19</text>
<rect x="40.3" y="655.3" width="50.7" height="20.2" fill="rgb(202,202,202)"/>
<rect x="40.3" y="655.3" width="50.7" height="20.2" fill="url(#gshade)"/>
<rect x="96.1" y="655.3" width="50.5" height="20.2" fill="rgb(228,228,228)"/>
<rect x="96.1" y="655.3" width="50.5" height="20.2" fill="url(#gshade)"/>
<text x="36.9" y="691.5" font-size="10" text-anchor="end" fill="#222">TFRC</text>
<text x="151.2" y="692.06" font-size="9.6" text-anchor="start" fill="#222">90</text>
<rect x="40.3" y="678.3" width="50.7" height="20.2" fill="rgb(194,194,194)"/>
<rect x="40.3" y="678.3" width="50.7" height="20.2" fill="url(#gshade)"/>
<rect x="96.1" y="678.3" width="50.5" height="20.2" fill="rgb(204,204,204)"/>
<rect x="96.1" y="678.3" width="50.5" height="20.2" fill="url(#gshade)"/>
<text x="36.9" y="712" font-size="10" text-anchor="end" fill="#222">GSS</text>
<text x="151.2" y="714.26" font-size="9.6" text-anchor="start" fill="#222">52</text>
<rect x="40.3" y="701.3" width="50.7" height="20.2" fill="rgb(228,228,228)"/>
<rect x="40.3" y="701.3" width="50.7" height="20.2" fill="url(#gshade)"/>
<rect x="96.1" y="701.3" width="50.5" height="20.2" fill="rgb(234,234,234)"/>
<rect x="96.1" y="701.3" width="50.5" height="20.2" fill="url(#gshade)"/>
<text x="36.9" y="735.4" font-size="10" text-anchor="end" fill="#222">GCLM</text>
<text x="151.2" y="738.06" font-size="9.6" text-anchor="start" fill="#222">31</text>
<rect x="40.3" y="724.3" width="50.7" height="20.2" fill="rgb(230,230,230)"/>
<rect x="40.3" y="724.3" width="50.7" height="20.2" fill="url(#gshade)"/>
<rect x="96.1" y="724.3" width="50.5" height="20.2" fill="rgb(237,237,237)"/>
<rect x="96.1" y="724.3" width="50.5" height="20.2" fill="url(#gshade)"/>
<text x="36.9" y="758.8" font-size="10" text-anchor="end" fill="#222">GCLC</text>
<text x="151.2" y="760.96" font-size="9.6" text-anchor="start" fill="#222">73</text>
<rect x="40.3" y="747.3" width="50.7" height="20.2" fill="rgb(236,236,236)"/>
<rect x="40.3" y="747.3" width="50.7" height="20.2" fill="url(#gshade)"/>
<rect x="96.1" y="747.3" width="50.5" height="20.2" fill="rgb(234,234,234)"/>
<rect x="96.1" y="747.3" width="50.5" height="20.2" fill="url(#gshade)"/>
<text x="36.9" y="782.1" font-size="10" text-anchor="end" fill="#222">β-actin</text>
<text x="151.2" y="784.26" font-size="9.6" text-anchor="start" fill="#222">42</text>
<rect x="40.3" y="770.3" width="50.7" height="20.2" fill="rgb(240,240,240)"/>
<rect x="40.3" y="770.3" width="50.7" height="20.2" fill="url(#gshade)"/>
<rect x="96.1" y="770.3" width="50.5" height="20.2" fill="rgb(230,230,230)"/>
<rect x="96.1" y="770.3" width="50.5" height="20.2" fill="url(#gshade)"/>
<rect x="42.8" y="665.1" width="20.5" height="4" rx="2" fill="rgb(15,15,15)" filter="url(#wb)"/>
<rect x="68.8" y="665.6" width="19.4" height="3" rx="1.5" fill="rgb(45,45,45)" filter="url(#wb)"/>
<rect x="98.8" y="661.8" width="20.7" height="5" rx="2.5" fill="rgb(5,5,5)" filter="url(#wb)"/>
<rect x="98.8" y="657.8" width="20.7" height="2" rx="1" fill="rgb(150,150,150)" filter="url(#wb)"/>
<rect x="122.5" y="663.05" width="21.3" height="2.5" rx="1.25" fill="rgb(170,170,170)" filter="url(#wb)"/>
<rect x="42.8" y="684.5" width="20.5" height="6" rx="2.5" fill="rgb(30,30,30)" filter="url(#wb)"/>
<rect x="68.8" y="682.2" width="19.4" height="9" rx="2.5" fill="rgb(5,5,5)" filter="url(#wb)"/>
<rect x="42.8" y="693.6" width="20.5" height="3" rx="1.5" fill="rgb(85,85,85)" filter="url(#wb)"/>
<rect x="68.8" y="693.6" width="19.4" height="3" rx="1.5" fill="rgb(90,90,90)" filter="url(#wb)"/>
<rect x="98.8" y="686.75" width="20.7" height="4.5" rx="2.25" fill="rgb(30,30,30)" filter="url(#wb)"/>
<rect x="122.5" y="684.8" width="21.3" height="8" rx="2.5" fill="rgb(5,5,5)" filter="url(#wb)"/>
<rect x="98.8" y="694.1" width="20.7" height="3" rx="1.5" fill="rgb(100,100,100)" filter="url(#wb)"/>
<rect x="122.5" y="694.1" width="21.3" height="3" rx="1.5" fill="rgb(70,70,70)" filter="url(#wb)"/>
<rect x="42.8" y="709.35" width="20.5" height="5.5" rx="2.5" fill="rgb(15,15,15)" filter="url(#wb)"/>
<rect x="68.8" y="710.4" width="19.4" height="3.4" rx="1.7" fill="rgb(45,45,45)" filter="url(#wb)"/>
<rect x="98.8" y="709.8" width="17.2" height="5" rx="2.5" fill="rgb(10,10,10)" filter="url(#wb)"/>
<rect x="122.5" y="711.3" width="21.3" height="2" rx="1" fill="rgb(185,185,185)" filter="url(#wb)"/>
<rect x="42.8" y="731.8" width="20.5" height="7" rx="2.5" fill="rgb(5,5,5)" filter="url(#wb)"/>
<rect x="68.8" y="733.55" width="19.4" height="3.5" rx="1.75" fill="rgb(60,60,60)" filter="url(#wb)"/>
<rect x="98.8" y="731.75" width="20.7" height="3.5" rx="1.75" fill="rgb(30,30,30)" filter="url(#wb)"/>
<rect x="122.5" y="732" width="21.3" height="3" rx="1.5" fill="rgb(75,75,75)" filter="url(#wb)"/>
<rect x="42.8" y="753.55" width="20.5" height="5.5" rx="2.5" fill="rgb(10,10,10)" filter="url(#wb)"/>
<rect x="68.8" y="754" width="19.4" height="3" rx="1.5" fill="rgb(85,85,85)" filter="url(#wb)"/>
<rect x="98.8" y="754.8" width="20.7" height="6" rx="2.5" fill="rgb(5,5,5)" filter="url(#wb)"/>
<rect x="122.5" y="756.05" width="21.3" height="3.5" rx="1.75" fill="rgb(45,45,45)" filter="url(#wb)"/>
<rect x="42.8" y="779.05" width="20.5" height="4.5" rx="2.25" fill="rgb(12,12,12)" filter="url(#wb)"/>
<rect x="68.8" y="779.05" width="19.4" height="4.5" rx="2.25" fill="rgb(12,12,12)" filter="url(#wb)"/>
<rect x="98.8" y="777.8" width="20.7" height="7" rx="2.5" fill="rgb(3,3,3)" filter="url(#wb)"/>
<rect x="122.5" y="777.8" width="21.3" height="7" rx="2.5" fill="rgb(3,3,3)" filter="url(#wb)"/>
<rect x="40.3" y="655.3" width="50.7" height="20.2" fill="none" stroke="#3a3a3a" stroke-width="1.1"/>
<rect x="96.1" y="655.3" width="50.5" height="20.2" fill="none" stroke="#3a3a3a" stroke-width="1.1"/>
<rect x="40.3" y="678.3" width="50.7" height="20.2" fill="none" stroke="#3a3a3a" stroke-width="1.1"/>
<rect x="96.1" y="678.3" width="50.5" height="20.2" fill="none" stroke="#3a3a3a" stroke-width="1.1"/>
<rect x="40.3" y="701.3" width="50.7" height="20.2" fill="none" stroke="#3a3a3a" stroke-width="1.1"/>
<rect x="96.1" y="701.3" width="50.5" height="20.2" fill="none" stroke="#3a3a3a" stroke-width="1.1"/>
<rect x="40.3" y="724.3" width="50.7" height="20.2" fill="none" stroke="#3a3a3a" stroke-width="1.1"/>
<rect x="96.1" y="724.3" width="50.5" height="20.2" fill="none" stroke="#3a3a3a" stroke-width="1.1"/>
<rect x="40.3" y="747.3" width="50.7" height="20.2" fill="none" stroke="#3a3a3a" stroke-width="1.1"/>
<rect x="96.1" y="747.3" width="50.5" height="20.2" fill="none" stroke="#3a3a3a" stroke-width="1.1"/>
<rect x="40.3" y="770.3" width="50.7" height="20.2" fill="none" stroke="#3a3a3a" stroke-width="1.1"/>
<rect x="96.1" y="770.3" width="50.5" height="20.2" fill="none" stroke="#3a3a3a" stroke-width="1.1"/>
<rect x="224.55" y="723.28" width="7.7" height="43.42" fill="#8fbbe4"/>
<line x1="228.4" y1="718.41" x2="228.4" y2="728.15" stroke="#111" stroke-width="0.9"/>
<line x1="225.94" y1="718.41" x2="230.86" y2="718.41" stroke="#111" stroke-width="0.9"/>
<line x1="225.94" y1="728.15" x2="230.86" y2="728.15" stroke="#111" stroke-width="0.9"/>
<circle cx="228.4" cy="718.04" r="2.1" fill="#000"/>
<circle cx="228.4" cy="723.28" r="2.1" fill="#000"/>
<circle cx="228.4" cy="727.77" r="2.1" fill="#000"/>
<rect x="238.45" y="740.5" width="7.7" height="26.2" fill="#d6474c"/>
<line x1="242.3" y1="737.5" x2="242.3" y2="743.49" stroke="#111" stroke-width="0.9"/>
<line x1="239.84" y1="737.5" x2="244.76" y2="737.5" stroke="#111" stroke-width="0.9"/>
<line x1="239.84" y1="743.49" x2="244.76" y2="743.49" stroke="#111" stroke-width="0.9"/>
<rect x="237.89" y="740.64" width="4.2" height="4.2" fill="#000"/>
<rect x="240.97" y="734.65" width="4.2" height="4.2" fill="#000"/>
<rect x="243.28" y="737.65" width="4.2" height="4.2" fill="#000"/>
<rect x="262.13" y="718.04" width="7.7" height="48.66" fill="#8fbbe4"/>
<line x1="265.98" y1="713.13" x2="265.98" y2="722.95" stroke="#111" stroke-width="0.9"/>
<line x1="263.52" y1="713.13" x2="268.44" y2="713.13" stroke="#111" stroke-width="0.9"/>
<line x1="263.52" y1="722.95" x2="268.44" y2="722.95" stroke="#111" stroke-width="0.9"/>
<circle cx="265.98" cy="712.05" r="2.1" fill="#000"/>
<circle cx="265.98" cy="718.04" r="2.1" fill="#000"/>
<circle cx="265.98" cy="721.78" r="2.1" fill="#000"/>
<rect x="276.03" y="695.58" width="7.7" height="71.12" fill="#d6474c"/>
<line x1="279.88" y1="687.89" x2="279.88" y2="703.26" stroke="#111" stroke-width="0.9"/>
<line x1="277.42" y1="687.89" x2="282.34" y2="687.89" stroke="#111" stroke-width="0.9"/>
<line x1="277.42" y1="703.26" x2="282.34" y2="703.26" stroke="#111" stroke-width="0.9"/>
<rect x="277.78" y="683.74" width="4.2" height="4.2" fill="#000"/>
<rect x="277.78" y="694.23" width="4.2" height="4.2" fill="#000"/>
<rect x="277.78" y="698.72" width="4.2" height="4.2" fill="#000"/>
<rect x="299.71" y="721.03" width="7.7" height="45.67" fill="#8fbbe4"/>
<line x1="303.56" y1="716.77" x2="303.56" y2="725.29" stroke="#111" stroke-width="0.9"/>
<line x1="301.1" y1="716.77" x2="306.02" y2="716.77" stroke="#111" stroke-width="0.9"/>
<line x1="301.1" y1="725.29" x2="306.02" y2="725.29" stroke="#111" stroke-width="0.9"/>
<circle cx="303.56" cy="725.52" r="2.1" fill="#000"/>
<circle cx="304.33" cy="719.53" r="2.1" fill="#000"/>
<circle cx="307.03" cy="717.29" r="2.1" fill="#000"/>
<rect x="313.61" y="740.5" width="7.7" height="26.2" fill="#d6474c"/>
<line x1="317.46" y1="738.61" x2="317.46" y2="742.38" stroke="#111" stroke-width="0.9"/>
<line x1="315" y1="738.61" x2="319.92" y2="738.61" stroke="#111" stroke-width="0.9"/>
<line x1="315" y1="742.38" x2="319.92" y2="742.38" stroke="#111" stroke-width="0.9"/>
<rect x="313.05" y="739.89" width="4.2" height="4.2" fill="#000"/>
<rect x="316.13" y="736.15" width="4.2" height="4.2" fill="#000"/>
<rect x="318.44" y="737.65" width="4.2" height="4.2" fill="#000"/>
<rect x="337.29" y="694.08" width="7.7" height="72.62" fill="#8fbbe4"/>
<line x1="341.14" y1="686.58" x2="341.14" y2="701.58" stroke="#111" stroke-width="0.9"/>
<line x1="338.68" y1="686.58" x2="343.6" y2="686.58" stroke="#111" stroke-width="0.9"/>
<line x1="338.68" y1="701.58" x2="343.6" y2="701.58" stroke="#111" stroke-width="0.9"/>
<circle cx="341.14" cy="685.84" r="2.1" fill="#000"/>
<circle cx="341.14" cy="692.58" r="2.1" fill="#000"/>
<circle cx="341.14" cy="700.82" r="2.1" fill="#000"/>
<rect x="351.19" y="735.26" width="7.7" height="31.44" fill="#d6474c"/>
<line x1="355.04" y1="731.88" x2="355.04" y2="738.63" stroke="#111" stroke-width="0.9"/>
<line x1="352.58" y1="731.88" x2="357.5" y2="731.88" stroke="#111" stroke-width="0.9"/>
<line x1="352.58" y1="738.63" x2="357.5" y2="738.63" stroke="#111" stroke-width="0.9"/>
<rect x="350.63" y="735.4" width="4.2" height="4.2" fill="#000"/>
<rect x="353.71" y="728.66" width="4.2" height="4.2" fill="#000"/>
<rect x="356.4" y="732.41" width="4.2" height="4.2" fill="#000"/>
<rect x="374.87" y="697.07" width="7.7" height="69.63" fill="#8fbbe4"/>
<line x1="378.72" y1="693.38" x2="378.72" y2="700.77" stroke="#111" stroke-width="0.9"/>
<line x1="376.26" y1="693.38" x2="381.18" y2="693.38" stroke="#111" stroke-width="0.9"/>
<line x1="376.26" y1="700.77" x2="381.18" y2="700.77" stroke="#111" stroke-width="0.9"/>
<circle cx="376.41" cy="697.07" r="2.1" fill="#000"/>
<circle cx="378.72" cy="690.34" r="2.1" fill="#000"/>
<circle cx="381.03" cy="696.33" r="2.1" fill="#000"/>
<rect x="388.77" y="740.5" width="7.7" height="26.2" fill="#d6474c"/>
<line x1="392.62" y1="735.92" x2="392.62" y2="745.07" stroke="#111" stroke-width="0.9"/>
<line x1="390.16" y1="735.92" x2="395.08" y2="735.92" stroke="#111" stroke-width="0.9"/>
<line x1="390.16" y1="745.07" x2="395.08" y2="745.07" stroke="#111" stroke-width="0.9"/>
<rect x="388.21" y="740.64" width="4.2" height="4.2" fill="#000"/>
<rect x="391.29" y="731.66" width="4.2" height="4.2" fill="#000"/>
<rect x="393.98" y="737.65" width="4.2" height="4.2" fill="#000"/>
<line x1="218.8" y1="653.9" x2="218.8" y2="766.7" stroke="#8a8a8a" stroke-width="1.1"/>
<line x1="218.3" y1="766.7" x2="403.1" y2="766.7" stroke="#444" stroke-width="1.2"/>
<line x1="214.2" y1="766.7" x2="218.8" y2="766.7" stroke="#8a8a8a" stroke-width="1.1"/>
<text x="213.4" y="769.62" font-size="8.1" text-anchor="end" fill="#2a2a2a">0.0</text>
<line x1="214.2" y1="729.27" x2="218.8" y2="729.27" stroke="#8a8a8a" stroke-width="1.1"/>
<text x="213.4" y="732.18" font-size="8.1" text-anchor="end" fill="#2a2a2a">0.5</text>
<line x1="214.2" y1="691.83" x2="218.8" y2="691.83" stroke="#8a8a8a" stroke-width="1.1"/>
<text x="213.4" y="694.75" font-size="8.1" text-anchor="end" fill="#2a2a2a">1.0</text>
<line x1="214.2" y1="654.4" x2="218.8" y2="654.4" stroke="#8a8a8a" stroke-width="1.1"/>
<text x="213.4" y="657.32" font-size="8.1" text-anchor="end" fill="#2a2a2a">1.5</text>
<line x1="235.2" y1="766.7" x2="235.2" y2="770.3" stroke="#333" stroke-width="1.1"/>
<text x="235.2" y="782.9" font-size="10" text-anchor="middle" fill="#111" font-weight="bold"></text>
<line x1="272.78" y1="766.7" x2="272.78" y2="770.3" stroke="#333" stroke-width="1.1"/>
<text x="272.78" y="782.9" font-size="10" text-anchor="middle" fill="#111" font-weight="bold"></text>
<line x1="310.36" y1="766.7" x2="310.36" y2="770.3" stroke="#333" stroke-width="1.1"/>
<text x="310.36" y="782.9" font-size="10" text-anchor="middle" fill="#111" font-weight="bold"></text>
<line x1="347.94" y1="766.7" x2="347.94" y2="770.3" stroke="#333" stroke-width="1.1"/>
<text x="347.94" y="782.9" font-size="10" text-anchor="middle" fill="#111" font-weight="bold"></text>
<line x1="385.52" y1="766.7" x2="385.52" y2="770.3" stroke="#333" stroke-width="1.1"/>
<text x="385.52" y="782.9" font-size="10" text-anchor="middle" fill="#111" font-weight="bold"></text>
<polyline points="228.6,711 228.6,708.5 242.6,708.5 242.6,730.2" stroke="#3a3a3a" stroke-width="0.85" fill="none"/>
<text x="235.6" y="708" font-size="9.6" text-anchor="middle" fill="#1a1a1a">**</text>
<polyline points="266.2,699.5 266.2,678.4 280.5,678.4 280.5,681.3" stroke="#3a3a3a" stroke-width="0.85" fill="none"/>
<text x="273.35" y="677.9" font-size="9.6" text-anchor="middle" fill="#1a1a1a">*</text>
<polyline points="303.7,711 303.7,707.6 317.5,707.6 317.5,730" stroke="#3a3a3a" stroke-width="0.85" fill="none"/>
<text x="310.6" y="707.2" font-size="9.6" text-anchor="middle" fill="#1a1a1a">**</text>
<polyline points="341.3,681.3 341.3,678.4 355.5,678.4 355.5,699.5" stroke="#3a3a3a" stroke-width="0.85" fill="none"/>
<text x="348.4" y="677.9" font-size="9.6" text-anchor="middle" fill="#1a1a1a">***</text>
<polyline points="378.7,685.1 378.7,682.6 392.9,682.6 392.9,703.4" stroke="#3a3a3a" stroke-width="0.85" fill="none"/>
<text x="385.8" y="681.7" font-size="9.6" text-anchor="middle" fill="#1a1a1a">***</text>
<text x="235.2" y="782.73" font-size="9.8" text-anchor="middle" fill="#222">FTL</text>
<text x="272.78" y="782.73" font-size="9.8" text-anchor="middle" fill="#222">TFRC</text>
<text x="310.36" y="782.73" font-size="9.8" text-anchor="middle" fill="#222">GSS</text>
<text x="347.94" y="782.73" font-size="9.8" text-anchor="middle" fill="#222">GCLM</text>
<text x="385.52" y="782.73" font-size="9.8" text-anchor="middle" fill="#222">GCLC</text>
<rect x="235.9" y="647.3" width="11" height="4.6" fill="#8fbbe4"/>
<text x="249.5" y="652.7" font-size="8.6" text-anchor="start" fill="#222">NC</text>
<rect x="315.2" y="647.3" width="11" height="4.6" fill="#d6474c"/>
<text x="328.4" y="652.7" font-size="8.6" text-anchor="start" fill="#222">ASO2</text>
<text transform="translate(194,710.3) rotate(-90)" x="0" y="3.6" font-size="10" text-anchor="middle" fill="#222">Relative protein level</text>
<rect x="455.75" y="730.76" width="7.7" height="35.94" fill="#8fbbe4"/>
<line x1="459.6" y1="727" x2="459.6" y2="734.53" stroke="#111" stroke-width="0.9"/>
<line x1="457.14" y1="727" x2="462.06" y2="727" stroke="#111" stroke-width="0.9"/>
<line x1="457.14" y1="734.53" x2="462.06" y2="734.53" stroke="#111" stroke-width="0.9"/>
<circle cx="459.6" cy="733.76" r="2.1" fill="#000"/>
<circle cx="460.37" cy="729.27" r="2.1" fill="#000"/>
<circle cx="463.06" cy="726.27" r="2.1" fill="#000"/>
<rect x="469.65" y="748.28" width="7.7" height="18.42" fill="#d6474c"/>
<line x1="473.5" y1="744.51" x2="473.5" y2="752.05" stroke="#111" stroke-width="0.9"/>
<line x1="471.04" y1="744.51" x2="475.96" y2="744.51" stroke="#111" stroke-width="0.9"/>
<line x1="471.04" y1="752.05" x2="475.96" y2="752.05" stroke="#111" stroke-width="0.9"/>
<rect x="471.4" y="749.63" width="4.2" height="4.2" fill="#000"/>
<rect x="471.4" y="745.13" width="4.2" height="4.2" fill="#000"/>
<rect x="471.4" y="742.14" width="4.2" height="4.2" fill="#000"/>
<rect x="493.23" y="730.02" width="7.7" height="36.68" fill="#8fbbe4"/>
<line x1="497.08" y1="725.14" x2="497.08" y2="734.89" stroke="#111" stroke-width="0.9"/>
<line x1="494.62" y1="725.14" x2="499.54" y2="725.14" stroke="#111" stroke-width="0.9"/>
<line x1="494.62" y1="734.89" x2="499.54" y2="734.89" stroke="#111" stroke-width="0.9"/>
<circle cx="497.08" cy="734.51" r="2.1" fill="#000"/>
<circle cx="497.08" cy="729.27" r="2.1" fill="#000"/>
<circle cx="497.08" cy="724.77" r="2.1" fill="#000"/>
<rect x="507.13" y="698.95" width="7.7" height="67.75" fill="#d6474c"/>
<line x1="510.98" y1="694.37" x2="510.98" y2="703.52" stroke="#111" stroke-width="0.9"/>
<line x1="508.52" y1="694.37" x2="513.44" y2="694.37" stroke="#111" stroke-width="0.9"/>
<line x1="508.52" y1="703.52" x2="513.44" y2="703.52" stroke="#111" stroke-width="0.9"/>
<rect x="508.88" y="700.96" width="4.2" height="4.2" fill="#000"/>
<rect x="508.88" y="694.97" width="4.2" height="4.2" fill="#000"/>
<rect x="508.88" y="691.98" width="4.2" height="4.2" fill="#000"/>
<rect x="530.71" y="739.97" width="7.7" height="26.73" fill="#8fbbe4"/>
<line x1="534.56" y1="735.46" x2="534.56" y2="744.49" stroke="#111" stroke-width="0.9"/>
<line x1="532.1" y1="735.46" x2="537.02" y2="735.46" stroke="#111" stroke-width="0.9"/>
<line x1="532.1" y1="744.49" x2="537.02" y2="744.49" stroke="#111" stroke-width="0.9"/>
<circle cx="534.56" cy="744.24" r="2.1" fill="#000"/>
<circle cx="534.56" cy="739" r="2.1" fill="#000"/>
<circle cx="534.56" cy="735.26" r="2.1" fill="#000"/>
<rect x="544.61" y="753.22" width="7.7" height="13.48" fill="#d6474c"/>
<line x1="548.46" y1="752.08" x2="548.46" y2="754.37" stroke="#111" stroke-width="0.9"/>
<line x1="546" y1="752.08" x2="550.92" y2="752.08" stroke="#111" stroke-width="0.9"/>
<line x1="546" y1="754.37" x2="550.92" y2="754.37" stroke="#111" stroke-width="0.9"/>
<rect x="544.05" y="751.12" width="4.2" height="4.2" fill="#000"/>
<rect x="547.13" y="748.88" width="4.2" height="4.2" fill="#000"/>
<rect x="549.44" y="749.63" width="4.2" height="4.2" fill="#000"/>
<rect x="568.19" y="740.72" width="7.7" height="25.98" fill="#8fbbe4"/>
<line x1="572.04" y1="738.13" x2="572.04" y2="743.31" stroke="#111" stroke-width="0.9"/>
<line x1="569.58" y1="738.13" x2="574.5" y2="738.13" stroke="#111" stroke-width="0.9"/>
<line x1="569.58" y1="743.31" x2="574.5" y2="743.31" stroke="#111" stroke-width="0.9"/>
<circle cx="569.73" cy="740.5" r="2.1" fill="#000"/>
<circle cx="572.04" cy="736" r="2.1" fill="#000"/>
<circle cx="574.35" cy="740.5" r="2.1" fill="#000"/>
<rect x="582.09" y="748.73" width="7.7" height="17.97" fill="#d6474c"/>
<line x1="585.94" y1="744.99" x2="585.94" y2="752.48" stroke="#111" stroke-width="0.9"/>
<line x1="583.48" y1="744.99" x2="588.4" y2="744.99" stroke="#111" stroke-width="0.9"/>
<line x1="583.48" y1="752.48" x2="588.4" y2="752.48" stroke="#111" stroke-width="0.9"/>
<rect x="583.84" y="749.63" width="4.2" height="4.2" fill="#000"/>
<rect x="583.84" y="745.88" width="4.2" height="4.2" fill="#000"/>
<rect x="583.84" y="742.14" width="4.2" height="4.2" fill="#000"/>
<rect x="605.67" y="698.95" width="7.7" height="67.75" fill="#8fbbe4"/>
<line x1="609.52" y1="694.43" x2="609.52" y2="703.46" stroke="#111" stroke-width="0.9"/>
<line x1="607.06" y1="694.43" x2="611.98" y2="694.43" stroke="#111" stroke-width="0.9"/>
<line x1="607.06" y1="703.46" x2="611.98" y2="703.46" stroke="#111" stroke-width="0.9"/>
<circle cx="609.52" cy="703.06" r="2.1" fill="#000"/>
<circle cx="609.52" cy="697.82" r="2.1" fill="#000"/>
<circle cx="609.52" cy="694.08" r="2.1" fill="#000"/>
<rect x="619.57" y="744.02" width="7.7" height="22.68" fill="#d6474c"/>
<line x1="623.42" y1="740.99" x2="623.42" y2="747.04" stroke="#111" stroke-width="0.9"/>
<line x1="620.96" y1="740.99" x2="625.88" y2="740.99" stroke="#111" stroke-width="0.9"/>
<line x1="620.96" y1="747.04" x2="625.88" y2="747.04" stroke="#111" stroke-width="0.9"/>
<rect x="619.01" y="743.64" width="4.2" height="4.2" fill="#000"/>
<rect x="622.09" y="737.65" width="4.2" height="4.2" fill="#000"/>
<rect x="624.4" y="741.39" width="4.2" height="4.2" fill="#000"/>
<line x1="450.2" y1="653.9" x2="450.2" y2="766.7" stroke="#8a8a8a" stroke-width="1.1"/>
<line x1="449.7" y1="766.7" x2="634.4" y2="766.7" stroke="#444" stroke-width="1.2"/>
<line x1="445.6" y1="766.7" x2="450.2" y2="766.7" stroke="#8a8a8a" stroke-width="1.1"/>
<text x="444.8" y="769.62" font-size="8.1" text-anchor="end" fill="#2a2a2a">0.0</text>
<line x1="445.6" y1="729.27" x2="450.2" y2="729.27" stroke="#8a8a8a" stroke-width="1.1"/>
<text x="444.8" y="732.18" font-size="8.1" text-anchor="end" fill="#2a2a2a">0.5</text>
<line x1="445.6" y1="691.83" x2="450.2" y2="691.83" stroke="#8a8a8a" stroke-width="1.1"/>
<text x="444.8" y="694.75" font-size="8.1" text-anchor="end" fill="#2a2a2a">1.0</text>
<line x1="445.6" y1="654.4" x2="450.2" y2="654.4" stroke="#8a8a8a" stroke-width="1.1"/>
<text x="444.8" y="657.32" font-size="8.1" text-anchor="end" fill="#2a2a2a">1.5</text>
<line x1="466.4" y1="766.7" x2="466.4" y2="770.3" stroke="#333" stroke-width="1.1"/>
<text x="466.4" y="782.9" font-size="10" text-anchor="middle" fill="#111" font-weight="bold"></text>
<line x1="503.88" y1="766.7" x2="503.88" y2="770.3" stroke="#333" stroke-width="1.1"/>
<text x="503.88" y="782.9" font-size="10" text-anchor="middle" fill="#111" font-weight="bold"></text>
<line x1="541.36" y1="766.7" x2="541.36" y2="770.3" stroke="#333" stroke-width="1.1"/>
<text x="541.36" y="782.9" font-size="10" text-anchor="middle" fill="#111" font-weight="bold"></text>
<line x1="578.84" y1="766.7" x2="578.84" y2="770.3" stroke="#333" stroke-width="1.1"/>
<text x="578.84" y="782.9" font-size="10" text-anchor="middle" fill="#111" font-weight="bold"></text>
<line x1="616.32" y1="766.7" x2="616.32" y2="770.3" stroke="#333" stroke-width="1.1"/>
<text x="616.32" y="782.9" font-size="10" text-anchor="middle" fill="#111" font-weight="bold"></text>
<polyline points="459.3,719.8 459.3,717.4 473.8,717.4 473.8,738.3" stroke="#3a3a3a" stroke-width="0.85" fill="none"/>
<text x="466.55" y="716.7" font-size="9.6" text-anchor="middle" fill="#1a1a1a">**</text>
<polyline points="497.4,708.5 497.4,687.2 511.5,687.2 511.5,690" stroke="#3a3a3a" stroke-width="0.85" fill="none"/>
<text x="504.45" y="686.2" font-size="9.6" text-anchor="middle" fill="#1a1a1a">**</text>
<polyline points="535.1,725.4 535.1,723.5 548.3,723.5 548.3,743.9" stroke="#3a3a3a" stroke-width="0.85" fill="none"/>
<text x="541.7" y="722.4" font-size="9.6" text-anchor="middle" fill="#1a1a1a">**</text>
<polyline points="572.4,728.1 572.4,726.2 586.6,726.2 586.6,738.3" stroke="#3a3a3a" stroke-width="0.85" fill="none"/>
<text x="579.5" y="725.4" font-size="9.6" text-anchor="middle" fill="#1a1a1a">*</text>
<polyline points="609.9,688 609.9,685.7 623.8,685.7 623.8,706.6" stroke="#3a3a3a" stroke-width="0.85" fill="none"/>
<text x="616.85" y="684.9" font-size="9.6" text-anchor="middle" fill="#1a1a1a">***</text>
<text x="466.4" y="782.73" font-size="9.8" text-anchor="middle" fill="#222">FTL</text>
<text x="503.88" y="782.73" font-size="9.8" text-anchor="middle" fill="#222">TFRC</text>
<text x="541.36" y="782.73" font-size="9.8" text-anchor="middle" fill="#222">GSS</text>
<text x="578.84" y="782.73" font-size="9.8" text-anchor="middle" fill="#222">GCLM</text>
<text x="616.32" y="782.73" font-size="9.8" text-anchor="middle" fill="#222">GCLC</text>
<rect x="472.2" y="647.3" width="11" height="4.6" fill="#8fbbe4"/>
<text x="484.5" y="652.7" font-size="8.6" text-anchor="start" fill="#222">NC</text>
<rect x="551.5" y="647.3" width="11" height="4.6" fill="#d6474c"/>
<text x="563.9" y="652.7" font-size="8.6" text-anchor="start" fill="#222">ASO2</text>
<text transform="translate(422,710.3) rotate(-90)" x="0" y="3.6" font-size="10" text-anchor="middle" fill="#222">Relative protein level</text>
</svg></body></html>
